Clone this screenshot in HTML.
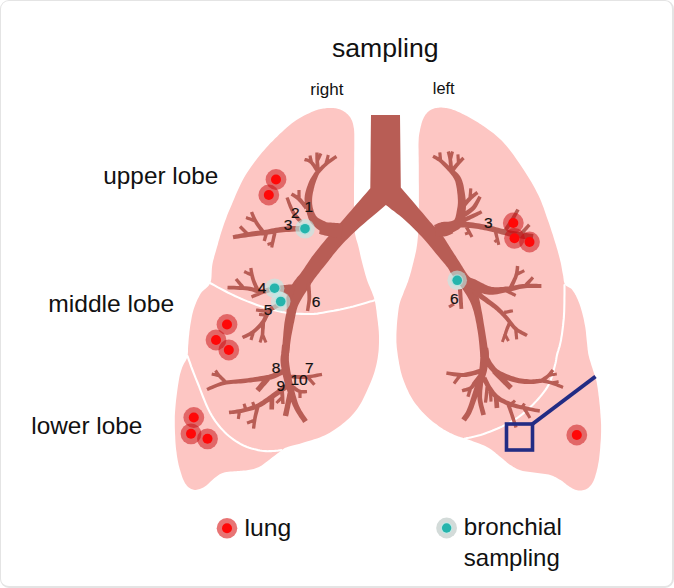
<!DOCTYPE html>
<html><head><meta charset="utf-8"><title>sampling</title>
<style>
html,body{margin:0;padding:0;background:#fff;}
body{width:674px;height:588px;overflow:hidden;position:relative;font-family:"Liberation Sans",sans-serif;}
.frame{position:absolute;left:0;top:0;width:674px;height:588px;box-sizing:border-box;border:1px solid #e4e4e4;border-right-width:2px;border-bottom-width:2px;border-radius:9px;}
svg{position:absolute;left:0;top:0;display:block;}
svg text{font-family:"Liberation Sans",sans-serif;fill:#111;}
</style></head><body>
<svg width="674" height="588" viewBox="0 0 674 588">
<path d="M333.8 108.1 L334.8 108.2 L335.8 108.3 L336.7 108.5 L337.6 108.7 L338.5 109 L339.4 109.2 L340.3 109.6 L341.1 109.9 L341.9 110.3 L342.8 110.7 L343.6 111.2 L344.4 111.7 L345.2 112.2 L345.9 112.8 L346.6 113.4 L347.3 114 L347.9 114.6 L348.5 115.3 L349.1 115.9 L349.6 116.6 L350.2 117.3 L350.6 118.1 L351.1 118.9 L351.5 119.7 L351.9 120.6 L352.3 121.6 L352.6 122.6 L352.9 123.6 L353.2 124.7 L353.4 125.8 L353.6 126.9 L353.8 128 L354 129 L354.1 129.9 L354.1 130.7 L354.2 131.6 L354.2 132.6 L354.3 133.7 L354.3 135.2 L354.3 137 L354.3 139.1 L354.3 141.4 L354.3 143.9 L354.3 146.6 L354.3 149.5 L354.2 152.7 L354.2 156.2 L354.2 160 L354.2 164.3 L354.1 169 L354.1 174.2 L354.1 179.6 L354 185 L354 190.3 L354 195.4 L354 200 L354 204.3 L354 208.5 L354 212.6 L354 216.4 L354 220.1 L354.1 223.6 L354.3 226.9 L354.5 230 L354.8 232.8 L355.3 235.2 L355.8 237.4 L356.3 239.4 L356.9 241.3 L357.5 243.2 L358 245.1 L358.5 247 L359 249 L359.4 250.8 L359.8 252.6 L360.2 254.4 L360.6 256.2 L361 258.1 L361.5 260 L362 262 L362.5 264.1 L363.1 266.3 L363.7 268.5 L364.3 270.8 L364.9 273 L365.6 275.4 L366.3 277.7 L367 280 L367.8 282.3 L368.8 284.7 L369.8 287.1 L370.8 289.4 L371.8 291.8 L372.7 294.2 L373.6 296.6 L374.3 299 L374.9 301.4 L375.4 303.8 L375.8 306.2 L376.1 308.6 L376.5 310.9 L376.7 313.3 L377 315.7 L377.3 318 L377.6 320.3 L377.9 322.6 L378.1 324.8 L378.4 327.1 L378.6 329.3 L378.8 331.5 L378.9 333.8 L379 336 L379 338.3 L379 340.5 L379 342.8 L378.9 345 L378.8 347.3 L378.7 349.5 L378.5 351.8 L378.2 354 L377.9 356.2 L377.6 358.4 L377.2 360.6 L376.8 362.7 L376.3 364.9 L375.8 367.1 L375.2 369.3 L374.6 371.5 L373.9 373.8 L373.1 376 L372.3 378.3 L371.4 380.6 L370.4 383 L369.4 385.3 L368.4 387.6 L367.3 390 L366.2 392.4 L365 394.9 L363.8 397.4 L362.6 399.9 L361.3 402.4 L359.9 404.8 L358.5 407.1 L357 409.3 L355.4 411.3 L353.8 413.3 L352.2 415.1 L350.4 416.9 L348.6 418.7 L346.8 420.3 L344.9 422 L342.9 423.6 L340.9 425.2 L338.8 426.8 L336.6 428.3 L334.4 429.8 L332.1 431.3 L329.8 432.7 L327.4 434 L325 435.2 L322.5 436.3 L319.8 437.4 L317 438.4 L314.2 439.3 L311.4 440.2 L308.7 441.1 L306 441.8 L303.6 442.6 L301.3 443.3 L299 443.9 L296.7 444.5 L294.6 445 L292.6 445.5 L290.7 446 L289 446.5 L287.5 447 L286.3 447.4 L285.4 447.8 L284.7 448.1 L284.1 448.5 L283.6 448.8 L283 449.3 L282.3 449.8 L281.3 450.5 L280.1 451.4 L278.8 452.4 L277.3 453.5 L275.8 454.7 L274.2 455.9 L272.7 457.1 L271.1 458.3 L269.7 459.4 L268.3 460.4 L267 461.5 L265.6 462.5 L264.3 463.6 L263 464.5 L261.7 465.5 L260.3 466.3 L259 467 L257.7 467.6 L256.3 468.1 L255 468.5 L253.6 468.9 L252.3 469.2 L251 469.5 L249.6 469.8 L248.3 470 L247 470.2 L245.7 470.4 L244.5 470.5 L243.2 470.6 L241.9 470.7 L240.6 470.7 L239.2 470.9 L237.7 471 L236.1 471.2 L234.3 471.3 L232.4 471.4 L230.4 471.6 L228.5 471.8 L226.7 472 L225 472.3 L223.4 472.7 L222 473.2 L220.8 473.7 L219.7 474.3 L218.6 475 L217.6 475.7 L216.6 476.4 L215.6 477.2 L214.5 478 L213.4 478.9 L212.3 479.9 L211.2 481 L210.1 482.1 L208.9 483.2 L207.8 484.2 L206.7 485.2 L205.6 486 L204.5 486.7 L203.3 487.4 L202.2 488 L201 488.5 L199.9 489 L198.8 489.3 L197.7 489.6 L196.7 489.8 L195.7 489.9 L194.8 489.9 L193.8 489.7 L192.9 489.5 L192.1 489.3 L191.2 488.9 L190.4 488.5 L189.6 488 L188.8 487.5 L188.1 486.9 L187.4 486.2 L186.7 485.5 L186.1 484.6 L185.4 483.7 L184.8 482.7 L184.2 481.6 L183.6 480.3 L183 478.9 L182.4 477.4 L181.8 475.8 L181.3 474.1 L180.8 472.4 L180.3 470.8 L179.8 469.2 L179.4 467.7 L179 466.2 L178.6 464.8 L178.3 463.3 L178 461.8 L177.7 460.2 L177.4 458.5 L177.1 456.7 L176.8 454.8 L176.6 452.8 L176.3 450.8 L176 448.7 L175.8 446.4 L175.6 444.1 L175.4 441.6 L175.3 438.9 L175.2 436 L175 433 L174.9 429.8 L174.8 426.5 L174.8 423 L174.8 419.6 L174.8 416 L175 412.5 L175.3 408.8 L175.6 404.9 L176 400.8 L176.5 396.8 L177 392.8 L177.5 389 L178 385.5 L178.5 382.5 L178.9 379.9 L179.3 377.7 L179.7 375.8 L180.1 374.1 L180.6 372.5 L181 371 L181.5 369.5 L182 368 L182.6 366.5 L183.3 365 L184 363.6 L184.8 362.3 L185.6 361 L186.2 359.7 L186.8 358.4 L187.3 357 L187.6 355.6 L187.8 354.3 L187.9 353 L188 351.6 L188 350.2 L188 348.8 L188.1 347.2 L188.2 345.4 L188.4 343.5 L188.5 341.4 L188.7 339.1 L188.9 336.8 L189.2 334.5 L189.4 332.1 L189.7 329.8 L190 327.5 L190.3 325.2 L190.7 323 L191.1 320.7 L191.5 318.4 L191.9 316.2 L192.4 313.9 L193 311.7 L193.6 309.6 L194.3 307.5 L195.1 305.3 L195.9 303.2 L196.8 301.1 L197.7 299.1 L198.7 297.2 L199.7 295.3 L200.7 293.6 L201.8 292.1 L203.1 290.7 L204.5 289.6 L205.8 288.4 L207.1 287.3 L208.4 286 L209.4 284.6 L210.3 283 L210.9 281.1 L211.3 279 L211.5 276.8 L211.6 274.5 L211.7 272.1 L211.8 269.7 L212 267.3 L212.3 265 L212.7 262.8 L213.2 260.6 L213.8 258.5 L214.3 256.3 L215 254.1 L215.6 251.9 L216.3 249.5 L217 247 L217.8 244.4 L218.5 241.6 L219.4 238.7 L220.2 235.8 L221.1 232.8 L222.1 229.8 L223 226.9 L224 224 L225 221.2 L226.1 218.4 L227.1 215.6 L228.2 212.8 L229.4 210 L230.6 207.2 L231.8 204.4 L233 201.5 L234.3 198.6 L235.5 195.6 L236.8 192.6 L238.2 189.5 L239.6 186.5 L241 183.5 L242.5 180.6 L244 177.8 L245.6 175.1 L247.2 172.5 L248.9 169.9 L250.6 167.4 L252.4 164.9 L254.2 162.4 L256.1 159.9 L258 157.5 L260 155.1 L262 152.6 L264.1 150.2 L266.2 147.8 L268.3 145.5 L270.5 143.1 L272.8 140.9 L275 138.6 L277.3 136.4 L279.6 134.1 L282 131.9 L284.3 129.7 L286.8 127.6 L289.2 125.5 L291.6 123.6 L294 121.8 L296.5 120.1 L299 118.5 L301.6 117 L304.2 115.6 L306.8 114.3 L309.2 113.2 L311.5 112.1 L313.5 111.2 L315.3 110.5 L316.9 109.9 L318.3 109.5 L319.6 109.2 L320.9 108.9 L322.1 108.7 L323.3 108.6 L324.5 108.4 L325.8 108.2 L327 108.1 L328.2 108 L329.4 108 L330.5 107.9 L331.7 108 L332.7 108Z" fill="#fdc6c3"/>
<path d="M444.1 107.8 L445.2 107.9 L446.3 108.1 L447.5 108.3 L448.6 108.5 L449.8 108.8 L451 109.1 L452.2 109.5 L453.4 109.9 L454.6 110.3 L455.9 110.8 L457.2 111.4 L458.5 112 L459.9 112.6 L461.2 113.2 L462.5 113.9 L463.8 114.5 L465.1 115.2 L466.4 115.8 L467.7 116.5 L469 117.2 L470.3 117.9 L471.6 118.7 L472.9 119.4 L474.2 120.2 L475.5 121 L476.8 121.8 L478.1 122.6 L479.4 123.4 L480.8 124.3 L482.1 125.2 L483.4 126.1 L484.8 127 L486.2 128 L487.5 128.9 L488.9 129.9 L490.3 130.9 L491.7 132 L493.1 133.1 L494.6 134.3 L496 135.5 L497.4 136.8 L498.8 138 L500.2 139.3 L501.6 140.6 L503 142.1 L504.5 143.7 L506.1 145.5 L507.8 147.5 L509.6 149.8 L511.5 152.3 L513.6 155.1 L515.6 157.9 L517.7 160.9 L519.8 164 L521.8 167 L523.8 170 L525.7 173 L527.6 176.1 L529.6 179.2 L531.5 182.3 L533.3 185.5 L535.1 188.7 L536.7 191.9 L538.3 195 L539.7 198.1 L541.1 201.3 L542.3 204.5 L543.5 207.6 L544.6 210.8 L545.7 213.9 L546.7 217 L547.8 220 L548.9 223 L549.9 226 L550.9 229 L551.8 231.9 L552.8 234.8 L553.6 237.6 L554.5 240.4 L555.3 243 L556.1 245.5 L556.8 247.9 L557.5 250.3 L558.1 252.6 L558.7 254.8 L559.3 256.9 L559.8 259 L560.3 261 L560.8 263 L561.2 264.9 L561.5 266.7 L561.8 268.5 L562.1 270.3 L562.4 271.9 L562.7 273.5 L563 275 L563.3 276.4 L563.4 277.8 L563.6 279.1 L563.7 280.3 L563.9 281.5 L564.2 282.6 L564.5 283.6 L565 284.5 L565.6 285.3 L566.4 285.9 L567.3 286.5 L568.2 286.9 L569.1 287.4 L570.1 287.9 L571 288.5 L571.8 289.3 L572.5 290.2 L573.2 291.2 L573.9 292.2 L574.6 293.3 L575.2 294.4 L575.9 295.6 L576.5 296.9 L577.1 298.2 L577.7 299.6 L578.3 301 L578.9 302.5 L579.5 304 L580 305.6 L580.6 307.2 L581.1 308.9 L581.6 310.7 L582.1 312.5 L582.6 314.5 L583.1 316.5 L583.6 318.5 L584 320.6 L584.4 322.7 L584.8 324.8 L585.2 326.8 L585.5 328.8 L585.8 330.9 L586 333.1 L586.2 335.2 L586.4 337.2 L586.6 339.2 L586.8 341.2 L587 343 L587.2 344.7 L587.3 346.3 L587.5 347.7 L587.6 349.2 L587.8 350.6 L588 352 L588.2 353.5 L588.5 355 L588.9 356.6 L589.3 358.3 L589.8 360 L590.4 361.8 L590.9 363.5 L591.4 365.2 L592 366.9 L592.5 368.6 L593 370.2 L593.5 371.7 L594 373.2 L594.6 374.7 L595.1 376.1 L595.5 377.7 L596 379.3 L596.4 381 L596.8 382.8 L597.1 384.7 L597.4 386.6 L597.7 388.6 L598 390.7 L598.3 392.8 L598.5 394.9 L598.8 397 L599.1 399.2 L599.3 401.4 L599.5 403.6 L599.8 405.9 L600 408.2 L600.2 410.5 L600.3 412.8 L600.5 415 L600.6 417.1 L600.8 419.1 L600.9 421.1 L601 423.1 L601.1 425.1 L601.1 427.2 L601.1 429.5 L601.1 432 L601 434.8 L600.9 437.9 L600.7 441.2 L600.4 444.5 L600.2 447.9 L599.9 451.2 L599.6 454.2 L599.3 457 L599 459.5 L598.6 461.9 L598.2 464.1 L597.8 466.2 L597.4 468.2 L596.9 470.1 L596.5 471.9 L596 473.6 L595.5 475.2 L595.1 476.8 L594.6 478.2 L594.1 479.5 L593.6 480.7 L593 481.9 L592.4 483 L591.8 484 L591.1 484.9 L590.4 485.8 L589.7 486.6 L589 487.3 L588.2 487.9 L587.4 488.5 L586.5 489 L585.6 489.4 L584.7 489.8 L583.7 490.1 L582.6 490.3 L581.5 490.4 L580.4 490.5 L579.3 490.5 L578.3 490.5 L577.2 490.3 L576.2 490 L575.1 489.7 L574.1 489.3 L573 488.7 L572 488.2 L571 487.6 L569.9 486.9 L568.9 486.3 L567.9 485.6 L566.9 484.9 L565.9 484.1 L564.9 483.3 L563.9 482.4 L562.8 481.6 L561.7 480.8 L560.6 480.1 L559.4 479.4 L558.2 478.7 L557 478 L555.8 477.3 L554.5 476.7 L553.1 476 L551.7 475.5 L550.2 475 L548.6 474.6 L546.9 474.2 L545.1 474 L543.2 473.7 L541.3 473.5 L539.4 473.3 L537.5 473.1 L535.7 472.8 L533.9 472.5 L532 472.3 L530.1 472.1 L528.2 471.8 L526.3 471.6 L524.5 471.3 L522.8 470.9 L521.2 470.5 L519.7 470 L518.3 469.5 L517 468.9 L515.7 468.3 L514.5 467.6 L513.3 466.9 L512.1 466.1 L510.8 465.3 L509.5 464.4 L508.2 463.4 L506.9 462.4 L505.6 461.3 L504.3 460.2 L503 459.1 L501.7 458.1 L500.4 457 L499.1 455.9 L497.8 454.8 L496.4 453.7 L495.1 452.6 L493.8 451.5 L492.5 450.5 L491.2 449.5 L490 448.7 L488.9 448 L487.9 447.4 L487 446.9 L486.1 446.4 L485.2 446 L484.1 445.5 L482.9 445 L481.5 444.4 L479.8 443.7 L477.8 443 L475.6 442.2 L473.4 441.4 L471.1 440.6 L468.9 439.8 L466.8 439.1 L465 438.5 L463.4 438 L462 437.5 L460.7 437.2 L459.5 436.8 L458.3 436.4 L457.1 436 L455.9 435.6 L454.5 435 L453 434.3 L451.6 433.6 L450 432.9 L448.5 432.1 L446.9 431.3 L445.3 430.3 L443.6 429.4 L442 428.3 L440.3 427.2 L438.5 425.9 L436.8 424.6 L434.9 423.3 L433.1 421.9 L431.4 420.4 L429.6 419 L428 417.5 L426.4 416 L424.9 414.5 L423.4 413 L421.9 411.4 L420.4 409.8 L419.1 408.2 L417.8 406.6 L416.5 405 L415.3 403.4 L414.2 401.9 L413.2 400.4 L412.2 398.8 L411.3 397.3 L410.3 395.6 L409.4 393.9 L408.5 392 L407.6 390 L406.6 387.9 L405.7 385.7 L404.8 383.5 L403.9 381.2 L403 378.8 L402.2 376.4 L401.5 374 L400.8 371.5 L400.2 368.9 L399.7 366.2 L399.1 363.5 L398.7 360.8 L398.2 358.1 L397.8 355.5 L397.5 353 L397.2 350.7 L396.9 348.5 L396.7 346.4 L396.6 344.4 L396.4 342.3 L396.4 340.1 L396.4 337.7 L396.4 335 L396.5 331.9 L396.7 328.5 L396.9 324.8 L397.2 321 L397.6 317.3 L398 313.7 L398.4 310.4 L398.8 307.5 L399.3 305.1 L399.8 302.9 L400.4 301 L401 299.3 L401.6 297.8 L402.2 296.2 L402.9 294.7 L403.5 293 L404.1 291.3 L404.7 289.8 L405.4 288.2 L406 286.7 L406.6 285.2 L407.2 283.6 L407.9 281.9 L408.5 280 L409.1 278 L409.8 275.9 L410.4 273.7 L411.1 271.4 L411.7 269 L412.3 266.7 L412.9 264.3 L413.5 262 L414 259.7 L414.6 257.5 L415.1 255.3 L415.6 253.1 L416.1 250.8 L416.5 248.4 L416.9 245.8 L417.3 243 L417.6 240 L417.9 237 L418.1 233.9 L418.3 230.6 L418.4 227.1 L418.6 223.4 L418.7 219.4 L418.8 215 L418.9 210.1 L418.9 204.6 L418.9 198.6 L418.9 192.5 L418.9 186.4 L418.8 180.5 L418.8 175 L418.8 170 L418.8 165.5 L418.7 161.3 L418.7 157.4 L418.6 153.7 L418.6 150.3 L418.5 147.1 L418.5 144.2 L418.6 141.5 L418.7 139.2 L418.8 137.2 L419 135.6 L419.2 134.2 L419.4 132.9 L419.7 131.7 L419.9 130.4 L420.2 129.1 L420.5 127.7 L420.8 126.3 L421.2 124.9 L421.5 123.6 L421.9 122.3 L422.3 121 L422.8 119.8 L423.3 118.7 L423.8 117.6 L424.4 116.6 L425 115.6 L425.6 114.6 L426.3 113.7 L427 112.9 L427.7 112.1 L428.5 111.4 L429.3 110.8 L430.2 110.2 L431 109.7 L432 109.3 L432.9 108.9 L433.9 108.6 L434.8 108.3 L435.8 108.1 L436.8 107.9 L437.8 107.8 L438.8 107.7 L439.8 107.6 L440.9 107.6 L441.9 107.6 L443 107.7Z" fill="#fdc6c3"/>
<path d="M210 283 L211.9 284 L214.5 285.4 L217.5 287.1 L220.9 288.9 L224.5 290.8 L228.2 292.7 L231.7 294.4 L235 296 L238.1 297.4 L241.2 298.8 L244.4 300.1 L247.5 301.4 L250.6 302.6 L253.8 303.8 L256.9 304.9 L260 306 L263.1 307 L266.2 308 L269.4 308.9 L272.5 309.8 L275.6 310.6 L278.8 311.3 L281.9 312 L285 312.5 L288.2 312.9 L291.5 313.3 L294.8 313.6 L298.1 313.8 L301.4 313.9 L304.5 314 L307.4 314 L310 314 L312.3 314 L314.2 313.9 L315.9 313.7 L317.5 313.6 L319.1 313.3 L320.8 313 L322.7 312.7 L325 312.3 L327.6 311.8 L330.6 311.3 L333.7 310.8 L336.9 310.1 L340.2 309.5 L343.6 308.8 L346.8 308 L350 307.3 L353.3 306.5 L356.7 305.5 L360.3 304.5 L363.8 303.5 L367.1 302.5 L370.1 301.6 L372.6 300.9 L374.5 300.3" fill="none" stroke="#fff" stroke-width="2.1" stroke-linecap="round"/>
<path d="M187.5 356 L187.9 357.1 L188.4 358.6 L189 360.3 L189.7 362.2 L190.4 364.2 L191.1 366.3 L191.8 368.2 L192.5 370 L193.1 371.5 L193.6 372.8 L194 374 L194.5 375.2 L195.1 376.6 L195.7 378.2 L196.5 380.1 L197.5 382.5 L198.7 385.5 L200 389 L201.5 392.9 L203.1 397 L204.8 401.2 L206.5 405.3 L208.3 409.1 L210 412.5 L211.7 415.5 L213.5 418.4 L215.3 421.1 L217.2 423.6 L219.1 426 L221 428.3 L223 430.4 L225 432.5 L227.1 434.5 L229.2 436.3 L231.4 438 L233.6 439.7 L235.8 441.2 L238.1 442.5 L240.3 443.8 L242.5 445 L244.7 446.1 L247 447 L249.2 447.8 L251.5 448.5 L253.7 449.1 L255.9 449.6 L258 450.1 L260 450.5 L262 450.8 L263.9 451 L265.8 451.1 L267.6 451.2 L269.4 451.1 L271.1 451.1 L272.6 451 L274 451 L275.3 450.9 L276.5 450.8 L277.5 450.7 L278.5 450.5 L279.4 450.4 L280.1 450.2 L280.8 450.1 L281.3 450" fill="none" stroke="#fff" stroke-width="2.1" stroke-linecap="round"/>
<path d="M564.5 285 L564.5 287.3 L564.5 290.5 L564.5 294.3 L564.4 298.4 L564.4 302.8 L564.3 307.1 L564.2 311.3 L564 315 L563.8 318.4 L563.4 321.8 L563.1 325.2 L562.7 328.4 L562.3 331.6 L561.9 334.6 L561.4 337.4 L561 340 L560.5 342.4 L560 344.6 L559.5 346.6 L558.9 348.4 L558.4 350.2 L557.9 351.8 L557.4 353.4 L557 355 L556.7 356.4 L556.5 357.6 L556.3 358.7 L556.2 359.7 L556 360.7 L555.8 361.9 L555.5 363.3 L555 365 L554.5 367 L553.9 369.3 L553.2 371.8 L552.5 374.5 L551.7 377.2 L550.8 379.9 L549.7 382.5 L548.5 385 L547.1 387.4 L545.5 389.8 L543.8 392.2 L541.9 394.6 L540 396.9 L538 399.2 L536 401.4 L534 403.5 L532 405.6 L529.9 407.6 L527.7 409.6 L525.6 411.5 L523.3 413.4 L521.1 415.2 L518.8 416.9 L516.5 418.5 L514.2 420 L511.7 421.5 L509.3 422.9 L506.8 424.2 L504.3 425.4 L501.9 426.6 L499.4 427.7 L497 428.8 L494.6 429.8 L492.2 430.8 L489.8 431.7 L487.4 432.6 L485 433.4 L482.8 434.2 L480.6 434.9 L478.5 435.5 L476.5 436.1 L474.5 436.6 L472.5 437 L470.6 437.4 L468.9 437.8 L467.3 438 L466 438.3 L465 438.5" fill="none" stroke="#fff" stroke-width="2.1" stroke-linecap="round"/>
<path d="M371 115 L374.6 115 L378.2 115 L381.9 115 L385.5 115 L389.1 115 L392.8 115 L396.4 115 L400 115 L400 115 L400.1 124.1 L400.2 133.1 L400.3 142.2 L400.4 151.2 L400.5 160.3 L400.6 169.4 L400.7 178.4 L400.8 187.5 L400.8 187.5 L404.4 191.8 L408.1 196.1 L411.8 200.3 L415.4 204.6 L419.1 208.9 L422.7 213.1 L426.4 217.4 L430 221.7 L430 221.7 L431.7 223.6 L433.3 225.4 L435 227.3 L436.6 229.2 L438.3 231.1 L440 232.9 L441.6 234.8 L443.3 236.7 L443.3 236.7 L444 237.8 L445 239.3 L446.1 241.1 L447.3 243 L448.6 245.1 L450 247.2 L451.2 249.2 L452.4 251 L453.5 252.7 L454.6 254.4 L455.7 256.1 L456.7 257.8 L457.8 259.4 L458.8 261 L459.8 262.5 L460.7 264 L461.6 265.4 L462.3 266.6 L463.1 267.9 L463.8 269 L464.5 270.2 L465.2 271.3 L465.9 272.4 L466.7 273.6 L467.5 274.7 L468.4 275.8 L469.3 276.8 L470.3 277.8 L471.2 278.9 L472.1 280.1 L473 281.5 L473.8 283 L474.6 284.7 L475.3 286.4 L476 288.2 L476.8 290.2 L477.4 292.3 L478.1 294.6 L478.8 297.2 L479.5 300 L480.2 303.2 L480.9 306.8 L481.6 310.7 L482.4 314.8 L483.1 318.9 L483.7 323 L484.4 327 L485 330.7 L485.6 334.4 L486.2 338.2 L486.8 342 L487.3 345.8 L487.9 349.3 L488.3 352.4 L488.7 355 L489 357 L489 357 L487.9 357 L486.9 357 L485.8 357 L484.8 357 L483.7 357 L482.6 357 L481.6 357 L480.5 357 L480.5 357 L480.3 355 L480 352.2 L479.7 349 L479.4 345.4 L479 341.6 L478.6 337.8 L478.1 334.1 L477.6 330.7 L477 327.5 L476.5 324.2 L475.8 321 L475.2 317.8 L474.4 314.6 L473.7 311.6 L472.8 308.7 L471.9 306 L470.9 303.5 L469.8 301.1 L468.7 298.9 L467.5 296.8 L466.3 294.8 L465 292.8 L463.7 290.8 L462.4 288.8 L461 286.7 L459.5 284.6 L458 282.5 L456.4 280.5 L454.9 278.5 L453.5 276.7 L452.2 275 L451.2 273.6 L450.4 272.5 L450 271.6 L449.7 271 L449.4 270.5 L449.2 270.1 L448.9 269.5 L448.4 268.7 L447.6 267.6 L446.5 266.2 L445.2 264.6 L443.7 262.8 L442.2 261 L440.5 259 L438.9 257.1 L437.2 255.1 L435.7 253.3 L434.3 251.5 L432.9 249.8 L431.5 248.1 L430.2 246.4 L428.8 244.7 L427.3 242.9 L425.6 241 L423.8 239 L421.8 236.8 L419.5 234.5 L417.2 232 L414.7 229.5 L412.2 227 L409.7 224.6 L407.2 222.2 L404.8 220 L402.3 217.8 L399.6 215.6 L396.8 213.4 L394.1 211.3 L391.5 209.4 L389.2 207.6 L387.3 206.1 L385.8 205 L385.8 205 L383.5 207 L380.3 209.7 L376.5 212.9 L372.3 216.5 L368 220.1 L363.8 223.7 L359.9 227.1 L356.7 230 L354 232.5 L351.6 234.8 L349.4 236.9 L347.4 238.9 L345.5 240.8 L343.6 242.7 L341.8 244.7 L340 246.7 L338.2 248.8 L336.4 250.9 L334.7 253 L333 255.1 L331.4 257.2 L329.8 259.3 L328.3 261.3 L326.7 263.3 L325.1 265.3 L323.5 267.2 L322 269.1 L320.4 271 L319 272.9 L317.5 274.7 L316.2 276.4 L315 278 L313.9 279.5 L313.1 280.7 L312.3 281.9 L311.5 283 L310.8 284.2 L310.1 285.4 L309.3 286.7 L308.3 288.3 L307.2 290.1 L305.9 292 L304.5 294.1 L303.1 296.3 L301.8 298.5 L300.5 300.7 L299.3 302.9 L298.3 305 L297.5 307.1 L296.8 309.2 L296.3 311.3 L295.8 313.4 L295.4 315.5 L295 317.6 L294.6 319.6 L294.2 321.7 L293.7 323.8 L293.3 325.8 L292.9 327.9 L292.5 330 L292.1 332 L291.7 334 L291.3 336 L291 338 L290.7 340 L290.4 342.2 L290.1 344.4 L289.9 346.5 L289.7 348.5 L289.5 350.3 L289.3 351.9 L289.2 353 L289.2 353 L288.3 353 L287.3 353 L286.4 353 L285.4 353 L284.5 353 L283.6 353 L282.6 353 L281.7 353 L281.7 353 L281.9 350.8 L282.1 347.7 L282.5 344 L282.8 339.9 L283.2 335.8 L283.5 331.7 L283.9 328.1 L284.2 325 L284.5 322.5 L284.9 320.3 L285.2 318.4 L285.6 316.6 L285.9 315 L286.3 313.4 L286.5 311.7 L286.7 310 L286.8 308.2 L286.7 306.4 L286.6 304.6 L286.5 302.9 L286.3 301.1 L286.3 299.4 L286.4 297.7 L286.7 296 L287.2 294.3 L287.8 292.6 L288.5 291 L289.3 289.3 L290.2 287.7 L291.1 286.1 L292.1 284.5 L293 283 L294 281.5 L294.9 280.2 L296 278.9 L297 277.6 L298.1 276.3 L299.3 274.9 L300.5 273.4 L301.7 271.7 L303 269.9 L304.4 267.9 L305.8 265.8 L307.2 263.7 L308.7 261.5 L310.2 259.3 L311.7 257.1 L313.3 255 L315 252.8 L316.8 250.4 L318.8 248 L320.7 245.6 L322.6 243.3 L324.3 241.3 L325.7 239.6 L326.7 238.3 L326.7 238.3 L328.4 236.4 L330 234.6 L331.7 232.7 L333.4 230.8 L335 228.9 L336.7 227.1 L338.3 225.2 L340 223.3 L340 223.3 L343.8 218.9 L347.6 214.6 L351.4 210.2 L355.1 205.8 L358.9 201.4 L362.7 197.1 L366.5 192.7 L370.3 188.3 L370.3 188.3 L370.4 179.1 L370.5 170 L370.6 160.8 L370.6 151.7 L370.7 142.5 L370.8 133.3 L370.9 124.2 L371 115Z" fill="#b85d55"/>
<path d="M342.9 223.6 L342 223.5 L340.7 223.4 L339.2 223.2 L337.5 223.1 L335.8 222.9 L334 222.8 L332.4 222.7 L330.9 222.6 L329.6 222.5 L328.1 222.4 L326.7 222.3 L325.2 222.3 L323.9 222.2 L322.7 222.2 L321.7 222.1 L320.9 222.1 L319.1 233.9 L319.8 234.1 L320.8 234.4 L322 234.7 L323.3 235.1 L324.7 235.4 L326.1 235.8 L327.6 236.1 L329.1 236.4 L330.6 236.7 L332.2 237 L334 237.3 L335.7 237.6 L337.4 237.9 L338.9 238.1 L340.2 238.3 L341.1 238.4Z M326.9 222.4 L326 221.9 L324.7 221.3 L323.3 220.7 L321.9 220 L320.4 219.3 L319.1 218.6 L318.1 217.9 L317.3 217.3 L316.6 216.6 L315.9 215.7 L315.3 214.6 L314.7 213.5 L314.2 212.2 L313.7 210.9 L313.3 209.5 L312.9 208.2 L312.6 206.9 L312.4 205.6 L312.2 204.3 L312.1 203.1 L312.1 201.8 L312.1 200.6 L312.1 199.3 L312.2 198 L312.3 196.7 L312.5 195.2 L312.8 193.6 L313.1 192 L313.5 190.4 L313.8 188.8 L314.2 187.4 L314.5 186 L314.8 184.9 L315.2 183.8 L315.5 182.8 L315.8 181.9 L316.1 181 L316.5 180 L316.9 179.1 L317.2 178.2 L317.6 177.3 L317.9 176.4 L318.3 175.5 L318.7 174.7 L319.1 173.9 L319.5 173.1 L319.8 172.5 L320 172 L316.4 170 L316.1 170.4 L315.7 170.9 L315.2 171.6 L314.7 172.3 L314.1 173.1 L313.5 174 L312.9 174.9 L312.4 175.8 L311.9 176.6 L311.3 177.5 L310.8 178.3 L310.2 179.3 L309.7 180.3 L309.1 181.4 L308.6 182.7 L308.1 184 L307.6 185.4 L307 186.9 L306.5 188.5 L306 190.3 L305.5 192 L305.1 193.8 L304.8 195.6 L304.6 197.4 L304.5 199.1 L304.6 200.7 L304.7 202.3 L304.9 203.8 L305.1 205.4 L305.4 206.9 L305.8 208.4 L306.1 209.8 L306.4 211.3 L306.8 212.9 L307.2 214.5 L307.7 216.1 L308.2 217.7 L308.9 219.4 L309.7 221.1 L310.7 222.7 L312.1 224.3 L313.6 225.8 L315.1 227.1 L316.7 228.4 L318.1 229.5 L319.4 230.4 L320.4 231.1 L321.1 231.6Z M319.6 170.4 L319.1 169.6 L318.4 168.5 L317.5 167.2 L316.5 165.8 L315.4 164.4 L314.4 163 L313.3 161.7 L312.2 160.6 L311.1 159.8 L310 159.2 L308.8 158.8 L307.8 158.5 L306.8 158.3 L306 158.1 L305.4 158 L305 157.9 L304 161.1 L304.6 161.3 L305.3 161.4 L306.1 161.6 L306.9 161.8 L307.7 162.1 L308.4 162.4 L309.1 162.8 L309.8 163.4 L310.5 164.1 L311.4 165.3 L312.4 166.6 L313.3 168 L314.2 169.4 L315.1 170.7 L315.8 171.8 L316.4 172.6Z M313.2 162.7 L313 161.7 L312.8 160.8 L312.6 159.9 L312.4 158.9 L312.1 158 L311.9 157.1 L311.7 156.1 L311.5 155.2 L308.5 155.8 L308.6 156.7 L308.8 157.7 L309 158.6 L309.1 159.6 L309.3 160.5 L309.5 161.5 L309.6 162.4 L309.8 163.3Z M320 171.9 L319.9 170.9 L319.8 169.6 L319.7 168 L319.5 166.3 L319.4 164.6 L319.2 162.8 L319.1 161.3 L319 159.9 L318.9 158.7 L318.9 157.6 L318.8 156.5 L318.8 155.5 L318.7 154.5 L318.7 153.7 L318.7 153 L318.6 152.5 L315.4 152.5 L315.3 153.1 L315.3 153.8 L315.3 154.6 L315.3 155.5 L315.3 156.6 L315.3 157.7 L315.3 158.9 L315.4 160.1 L315.4 161.5 L315.5 163.1 L315.6 164.8 L315.7 166.6 L315.8 168.3 L315.9 169.9 L316 171.2 L316 172.1Z M318.8 161.7 L319.2 160.8 L319.7 159.8 L320.1 158.9 L320.6 158 L321 157 L321.5 156.1 L321.9 155.1 L322.4 154.2 L319.6 152.8 L319.1 153.7 L318.7 154.7 L318.2 155.6 L317.7 156.5 L317.2 157.5 L316.8 158.4 L316.3 159.3 L315.8 160.3Z M319.4 173.4 L320.1 172.7 L320.9 171.8 L321.9 170.7 L323 169.5 L324.2 168.3 L325.4 167.1 L326.6 165.9 L327.7 164.9 L328.8 163.9 L330.2 162.9 L331.6 161.9 L333 160.9 L334.4 160 L335.6 159.1 L336.6 158.4 L337.4 157.9 L335.6 155.1 L334.8 155.6 L333.7 156.3 L332.5 157.1 L331.1 158 L329.6 159 L328.1 160 L326.6 161.1 L325.3 162.1 L324.1 163.2 L322.8 164.4 L321.5 165.6 L320.2 166.9 L319.1 168 L318.1 169.1 L317.2 170 L316.6 170.6Z M327.7 164.4 L327.9 163.3 L328.2 162.2 L328.5 161 L328.7 159.9 L329 158.8 L329.3 157.6 L329.5 156.5 L329.8 155.4 L326.8 154.6 L326.5 155.7 L326.2 156.9 L325.9 158 L325.6 159.1 L325.3 160.2 L324.9 161.3 L324.6 162.5 L324.3 163.6Z M308.2 206.6 L307.6 205.9 L306.8 205 L305.9 203.8 L304.9 202.5 L303.7 201.2 L302.6 199.8 L301.5 198.6 L300.4 197.5 L299.2 196.6 L298.1 195.8 L296.9 195 L295.7 194.4 L294.7 193.8 L293.7 193.3 L293 192.9 L292.4 192.5 L290.6 195.5 L291.2 195.9 L292 196.3 L292.8 196.9 L293.8 197.5 L294.8 198.2 L295.8 198.9 L296.8 199.7 L297.6 200.5 L298.5 201.4 L299.5 202.5 L300.5 203.8 L301.6 205.1 L302.6 206.4 L303.5 207.6 L304.2 208.6 L304.8 209.4Z M300.7 199.5 L300.7 198.3 L300.7 197.1 L300.7 195.9 L300.6 194.8 L300.6 193.6 L300.6 192.4 L300.6 191.2 L300.6 190 L297.4 190 L297.4 191.2 L297.4 192.4 L297.4 193.6 L297.4 194.8 L297.3 195.9 L297.3 197.1 L297.3 198.3 L297.3 199.5Z M302.5 220.7 L301.9 219.9 L301 219 L300 217.9 L298.8 216.7 L297.7 215.3 L296.5 213.9 L295.5 212.5 L294.6 211.1 L293.7 209.5 L292.8 207.6 L292 205.6 L291.1 203.5 L290.3 201.5 L289.6 199.6 L289 198.1 L288.5 196.9 L285.5 198.1 L285.9 199.2 L286.5 200.8 L287.1 202.7 L287.9 204.7 L288.7 206.9 L289.6 209.1 L290.5 211.1 L291.4 212.9 L292.4 214.6 L293.6 216.2 L294.7 217.7 L295.9 219.2 L297 220.5 L298.1 221.6 L298.9 222.6 L299.5 223.3Z M304.9 225.7 L303.2 225.7 L300.8 225.8 L298.1 225.9 L295 226 L291.7 226.1 L288.5 226.3 L285.5 226.5 L282.7 226.7 L280.3 227 L278 227.4 L275.7 227.8 L273.6 228.2 L271.6 228.6 L269.6 229 L267.6 229.4 L265.6 229.7 L263.6 230 L261.6 230.3 L259.7 230.5 L257.7 230.8 L255.7 231 L253.7 231.3 L251.7 231.6 L249.6 231.9 L247.4 232.3 L245 232.7 L242.6 233.2 L240.1 233.7 L237.8 234.2 L235.7 234.6 L233.9 235 L232.6 235.3 L233.4 239.3 L234.7 239.1 L236.5 238.8 L238.6 238.5 L240.9 238.1 L243.4 237.7 L245.8 237.4 L248.2 237 L250.4 236.7 L252.4 236.4 L254.4 236.2 L256.3 236 L258.3 235.8 L260.3 235.6 L262.3 235.4 L264.3 235.2 L266.4 234.9 L268.5 234.6 L270.5 234.2 L272.6 233.9 L274.6 233.5 L276.7 233.1 L278.8 232.8 L281 232.5 L283.3 232.3 L285.9 232.1 L288.8 231.9 L292 231.8 L295.2 231.6 L298.2 231.5 L301 231.5 L303.4 231.4 L305.1 231.3Z M265.1 231.3 L264.5 230.5 L263.7 229.4 L262.7 228.1 L261.6 226.7 L260.5 225.2 L259.4 223.8 L258.4 222.3 L257.6 221.1 L256.9 219.8 L256.2 218.5 L255.5 217.1 L254.9 215.7 L254.3 214.3 L253.8 213.2 L253.4 212.1 L253 211.4 L250 212.6 L250.3 213.4 L250.7 214.4 L251.1 215.6 L251.7 217 L252.3 218.5 L252.9 220 L253.6 221.5 L254.4 222.9 L255.3 224.4 L256.3 225.9 L257.4 227.5 L258.5 229 L259.5 230.5 L260.5 231.8 L261.3 232.9 L261.9 233.7Z M256.1 219.4 L254.9 219 L253.7 218.6 L252.5 218.1 L251.3 217.7 L250.1 217.3 L248.9 216.9 L247.7 216.5 L246.5 216 L245.5 219 L246.6 219.4 L247.8 219.9 L249 220.3 L250.2 220.8 L251.4 221.2 L252.5 221.7 L253.7 222.2 L254.9 222.6Z M249.3 233.2 L248.3 232.2 L247.2 231.3 L246.2 230.3 L245.2 229.3 L244.2 228.3 L243.2 227.3 L242.2 226.3 L241.2 225.3 L238.8 227.7 L239.8 228.7 L240.8 229.7 L241.8 230.7 L242.8 231.7 L243.8 232.7 L244.8 233.7 L245.7 234.8 L246.7 235.8Z M264.8 232.5 L264.5 233.5 L264.2 234.5 L264 235.5 L263.7 236.5 L263.4 237.5 L263.2 238.5 L262.9 239.5 L262.6 240.5 L265.8 241.5 L266.1 240.5 L266.4 239.5 L266.7 238.5 L267 237.5 L267.3 236.5 L267.6 235.5 L267.9 234.5 L268.2 233.5Z M273.2 231.6 L273 232.3 L272.8 233.3 L272.6 234.4 L272.3 235.7 L272 237 L271.8 238.3 L271.5 239.6 L271.3 240.6 L271.1 241.6 L271 242.6 L270.8 243.6 L270.6 244.5 L270.5 245.3 L270.4 246.1 L270.3 246.7 L270.2 247.2 L273.2 247.8 L273.3 247.3 L273.5 246.7 L273.6 246 L273.8 245.1 L274 244.2 L274.2 243.3 L274.5 242.3 L274.7 241.4 L274.9 240.3 L275.2 239.1 L275.5 237.8 L275.8 236.5 L276.1 235.2 L276.4 234.1 L276.6 233.1 L276.8 232.4Z M272.2 241.4 L271.6 241.6 L271 241.8 L270.3 242 L269.7 242.2 L269 242.4 L268.4 242.6 L267.7 242.9 L267.1 243.1 L267.9 245.9 L268.6 245.8 L269.2 245.6 L269.9 245.4 L270.5 245.3 L271.2 245.1 L271.8 244.9 L272.5 244.8 L273.2 244.6Z M296.3 284.4 L295.8 284.4 L295 284.4 L294.1 284.5 L293.1 284.5 L292 284.5 L290.9 284.6 L289.7 284.6 L288.7 284.6 L287.7 284.7 L286.8 284.8 L285.9 284.9 L285 285 L284 285.1 L283.1 285.1 L282.2 285.2 L281.3 285.3 L280.4 285.4 L279.6 285.4 L278.8 285.4 L277.9 285.4 L277 285.4 L275.9 285.5 L274.8 285.6 L273.5 285.8 L272.1 286.2 L270.5 286.7 L269 287.2 L267.4 287.8 L265.9 288.3 L264.3 288.7 L262.9 289 L261.5 289.2 L260.2 289.1 L258.8 288.9 L257.4 288.6 L255.9 288.1 L254.2 287.7 L252.4 287.2 L250.4 286.8 L248.3 286.4 L245.8 286.2 L243 286.1 L240 286 L237 285.9 L234.1 285.8 L231.4 285.8 L229.2 285.7 L227.6 285.7 L227.4 289.3 L229.1 289.4 L231.3 289.5 L233.9 289.6 L236.8 289.7 L239.8 289.9 L242.8 290.1 L245.5 290.3 L247.7 290.6 L249.6 290.9 L251.4 291.3 L253 291.8 L254.6 292.4 L256.2 292.9 L257.9 293.3 L259.6 293.7 L261.5 293.8 L263.4 293.8 L265.3 293.5 L267.2 293.1 L268.9 292.6 L270.5 292.1 L272 291.7 L273.4 291.3 L274.5 291.2 L275.5 291.1 L276.4 291 L277.1 291 L277.8 291 L278.5 291.1 L279.2 291.2 L279.9 291.3 L280.7 291.5 L281.5 291.7 L282.2 292 L282.9 292.3 L283.6 292.7 L284.3 293.1 L285 293.5 L285.6 293.9 L286.3 294.4 L287 294.8 L287.7 295.4 L288.4 296 L289.2 296.6 L289.9 297.2 L290.6 297.8 L291.2 298.3 L291.7 298.6Z M259.8 290.2 L259.4 289.3 L258.8 288 L258.2 286.5 L257.4 284.9 L256.7 283.2 L255.9 281.5 L255.3 279.9 L254.8 278.4 L254.4 277 L254 275.5 L253.6 274 L253.3 272.4 L253 271 L252.8 269.7 L252.6 268.6 L252.4 267.7 L249.2 268.3 L249.3 269.1 L249.5 270.2 L249.6 271.6 L249.9 273.1 L250.1 274.7 L250.4 276.3 L250.8 278 L251.2 279.6 L251.8 281.2 L252.4 282.9 L253.1 284.7 L253.9 286.5 L254.6 288.1 L255.2 289.6 L255.8 290.9 L256.2 291.8Z M252.2 273.4 L251.3 273 L250.4 272.6 L249.5 272.2 L248.6 271.8 L247.6 271.4 L246.7 270.9 L245.8 270.5 L244.9 270.1 L243.5 272.9 L244.4 273.4 L245.3 273.8 L246.2 274.3 L247.1 274.7 L248 275.2 L248.9 275.6 L249.9 276.1 L250.8 276.6Z M244.9 286.8 L243.9 285.7 L243 284.6 L242 283.5 L241.1 282.4 L240.1 281.3 L239.2 280.2 L238.2 279.1 L237.3 277.9 L234.7 280.1 L235.7 281.2 L236.6 282.3 L237.5 283.5 L238.4 284.6 L239.3 285.8 L240.3 286.9 L241.2 288 L242.1 289.2Z M263.3 289.8 L261.7 290.5 L260.1 291.2 L258.6 291.9 L257 292.6 L255.5 293.4 L253.9 294.1 L252.4 294.8 L250.8 295.5 L252.2 298.5 L253.7 297.8 L255.3 297.2 L256.9 296.5 L258.5 295.9 L260 295.2 L261.6 294.5 L263.2 293.9 L264.7 293.2Z M282 300.9 L281 301.4 L279.6 302 L277.9 302.8 L276 303.7 L274 304.7 L272 305.8 L270.1 307 L268.5 308.4 L267.1 309.9 L266 311.6 L265.1 313.2 L264.4 314.9 L263.7 316.5 L262.9 318.1 L262.2 319.5 L261.3 320.8 L260.3 322.1 L259.2 323.4 L258 324.7 L256.8 326 L255.6 327.2 L254.3 328.4 L253.1 329.5 L251.9 330.4 L250.6 331.3 L249.2 332.2 L247.8 333 L246.3 333.7 L244.9 334.4 L243.7 335 L242.6 335.5 L241.7 335.9 L243.3 339.1 L244.1 338.7 L245.1 338.3 L246.5 337.7 L247.9 337 L249.5 336.3 L251.1 335.5 L252.7 334.5 L254.1 333.6 L255.5 332.5 L256.9 331.3 L258.3 330.1 L259.6 328.8 L261 327.5 L262.2 326.1 L263.5 324.7 L264.7 323.2 L265.8 321.7 L266.7 320 L267.5 318.3 L268.3 316.7 L269 315.2 L269.8 313.8 L270.6 312.6 L271.5 311.6 L272.7 310.6 L274.3 309.7 L276.1 308.7 L277.9 307.8 L279.8 307 L281.5 306.3 L282.9 305.6 L284 305.1Z M261.4 321.4 L261.3 323.1 L261.2 324.8 L261.1 326.5 L261 328.1 L261 329.8 L260.9 331.5 L260.8 333.2 L260.7 334.9 L264.3 335.1 L264.4 333.4 L264.5 331.7 L264.6 330 L264.8 328.4 L264.9 326.7 L265 325 L265.1 323.3 L265.2 321.6Z M260.9 334 L260.6 335 L260.3 336 L260 337 L259.7 338 L259.5 339 L259.2 340 L258.9 341 L258.6 342.1 L261.4 342.9 L261.8 342 L262.1 341 L262.4 340 L262.8 339 L263.1 338 L263.4 337 L263.7 336 L264.1 335Z M261 335.2 L261.4 336.2 L261.9 337.1 L262.4 338.1 L262.8 339.1 L263.3 340.1 L263.7 341.1 L264.2 342.1 L264.6 343.1 L267.4 341.9 L267 340.9 L266.5 339.9 L266.1 338.9 L265.7 337.9 L265.3 336.9 L264.9 335.9 L264.4 334.8 L264 333.8Z M268.2 309.8 L266.7 309.6 L265.2 309.5 L263.7 309.3 L262.2 309.1 L260.7 309 L259.2 308.8 L257.7 308.6 L256.2 308.5 L255.8 311.5 L257.3 311.7 L258.8 312 L260.3 312.2 L261.8 312.4 L263.3 312.6 L264.8 312.8 L266.3 313 L267.8 313.2Z M265.6 313.4 L264.8 313.3 L264 313.3 L263.2 313.2 L262.4 313.2 L261.6 313.1 L260.7 313.1 L259.9 313 L259.1 313 L258.9 316 L259.7 316.1 L260.5 316.2 L261.3 316.2 L262.1 316.3 L262.9 316.4 L263.8 316.5 L264.6 316.6 L265.4 316.6Z M251.8 331 L251.6 332.1 L251.3 333.2 L251 334.2 L250.7 335.3 L250.4 336.4 L250.1 337.4 L249.8 338.5 L249.5 339.6 L252.5 340.4 L252.8 339.4 L253.2 338.3 L253.5 337.3 L253.8 336.2 L254.2 335.2 L254.5 334.1 L254.8 333 L255.2 332Z M306.3 283.2 L306.4 284.3 L306.6 285.9 L306.8 287.8 L307 289.9 L307.2 292 L307.3 294.1 L307.4 296.2 L307.4 297.9 L307.4 299.7 L307.2 301.5 L307 303.3 L306.7 305.1 L306.4 306.9 L306.2 308.4 L306 309.7 L305.8 310.7 L309.2 311.3 L309.4 310.3 L309.6 309 L309.9 307.5 L310.2 305.7 L310.5 303.9 L310.8 301.9 L311 300 L311.2 298.1 L311.2 296.1 L311.1 293.9 L311 291.7 L310.8 289.5 L310.7 287.4 L310.5 285.6 L310.4 284 L310.3 282.8Z M282 344.7 L282 345.3 L281.9 346.1 L281.8 347.1 L281.7 348.1 L281.6 349.3 L281.5 350.5 L281.4 351.6 L281.3 352.7 L281.2 353.7 L281.1 354.6 L280.9 355.5 L280.7 356.6 L280.6 357.9 L280.5 359.2 L280.5 360.7 L280.6 362.4 L280.8 364.2 L281 366.1 L281.4 368.2 L281.7 370.3 L282.2 372.5 L282.6 374.7 L283.1 376.8 L283.6 378.8 L284.1 380.8 L284.6 382.7 L285.2 384.6 L285.8 386.5 L286.4 388.4 L287 390.3 L287.6 392.1 L288.3 394 L289 395.9 L289.7 397.8 L290.4 399.7 L291.1 401.6 L291.9 403.5 L292.7 405.4 L293.6 407.3 L294.5 409.2 L295.6 411.2 L296.8 413.2 L298.1 415.2 L299.3 417.2 L300.6 419 L301.7 420.6 L302.6 422 L303.2 423 L307.8 420 L307.1 419 L306.1 417.6 L305 416 L303.8 414.2 L302.6 412.3 L301.4 410.4 L300.4 408.5 L299.5 406.8 L298.7 405.1 L298 403.3 L297.4 401.5 L296.8 399.6 L296.3 397.7 L295.7 395.8 L295.2 393.9 L294.7 392 L294.2 390.1 L293.7 388.3 L293.3 386.4 L292.9 384.6 L292.5 382.8 L292.1 380.9 L291.8 379 L291.4 377.2 L291.1 375.2 L290.7 373.1 L290.3 371 L290 368.9 L289.7 366.9 L289.4 364.9 L289.2 363.2 L289 361.6 L288.9 360.3 L288.9 359.3 L288.9 358.3 L288.9 357.4 L288.9 356.4 L289 355.5 L289 354.4 L289.1 353.3 L289.1 352.2 L289.2 351 L289.3 349.9 L289.3 348.7 L289.4 347.7 L289.5 346.7 L289.5 345.9 L289.6 345.3Z M287.9 391.4 L287.7 392.4 L287.4 393.6 L287.1 395.1 L286.8 396.7 L286.4 398.4 L286 400.2 L285.7 401.9 L285.4 403.4 L285 405 L284.7 406.7 L284.3 408.5 L284 410.2 L283.6 411.8 L283.3 413.3 L283 414.5 L282.9 415.4 L288.1 416.6 L288.3 415.6 L288.6 414.4 L288.9 412.9 L289.2 411.3 L289.6 409.6 L290 407.8 L290.3 406.1 L290.6 404.6 L291 403 L291.3 401.3 L291.7 399.5 L292 397.8 L292.4 396.2 L292.7 394.7 L293 393.5 L293.1 392.6Z M282.8 368.4 L281.8 368.9 L280.5 369.5 L279 370.3 L277.4 371.1 L275.7 371.9 L274 372.7 L272.5 373.4 L271.1 374 L269.9 374.3 L268.9 374.7 L267.9 374.9 L267 375.1 L265.9 375.3 L264.7 375.5 L263.3 375.7 L261.6 376 L259.7 376.3 L257.5 376.7 L255.2 377 L252.8 377.4 L250.2 377.8 L247.7 378.2 L245.2 378.5 L242.8 378.8 L240.4 379.1 L238.1 379.3 L235.6 379.5 L233.2 379.7 L230.8 379.9 L228.4 380.2 L225.9 380.6 L223.6 381.1 L221.1 381.8 L218.6 382.7 L216.1 383.7 L213.6 384.7 L211.3 385.7 L209.3 386.6 L207.6 387.4 L206.3 387.9 L207.7 391.1 L209 390.6 L210.7 389.8 L212.7 389 L215 388 L217.4 387.1 L219.8 386.2 L222.2 385.5 L224.4 384.9 L226.6 384.5 L228.9 384.2 L231.2 383.9 L233.5 383.8 L235.9 383.7 L238.4 383.5 L240.8 383.4 L243.2 383.2 L245.7 382.9 L248.2 382.6 L250.8 382.4 L253.4 382.1 L255.9 381.8 L258.2 381.5 L260.4 381.3 L262.4 381 L264 380.8 L265.5 380.6 L266.7 380.4 L267.9 380.3 L269 380.1 L270.2 379.8 L271.5 379.5 L272.9 379 L274.5 378.5 L276.2 377.8 L278 377 L279.8 376.1 L281.5 375.3 L283.1 374.6 L284.3 374 L285.2 373.6Z M227.3 381.2 L226.7 380.7 L225.9 379.9 L225 379 L224 378.1 L222.9 377 L221.9 376.1 L221 375.1 L220.3 374.4 L219.7 373.7 L219.2 373 L218.6 372.3 L218.2 371.7 L217.8 371.1 L217.4 370.5 L217.1 370 L216.8 369.6 L214.2 371.4 L214.4 371.7 L214.7 372.2 L215 372.8 L215.4 373.5 L215.9 374.2 L216.4 375 L217 375.8 L217.7 376.6 L218.5 377.5 L219.4 378.5 L220.4 379.5 L221.5 380.6 L222.5 381.6 L223.4 382.5 L224.2 383.2 L224.7 383.8Z M218.9 373.9 L218 373.7 L217.1 373.6 L216.3 373.4 L215.4 373.2 L214.6 373 L213.7 372.9 L212.9 372.7 L212 372.5 L211.4 375.5 L212.2 375.7 L213.1 375.9 L213.9 376.1 L214.8 376.3 L215.6 376.5 L216.5 376.7 L217.3 376.9 L218.1 377.1Z M267 375.2 L266.5 375.8 L265.9 376.5 L265.1 377.4 L264.3 378.3 L263.4 379.3 L262.6 380.4 L261.7 381.3 L260.9 382.2 L260.2 383.1 L259.4 384.1 L258.6 385 L257.8 385.9 L257.1 386.8 L256.4 387.6 L255.9 388.3 L255.4 388.8 L259.6 392.2 L260 391.7 L260.5 391.1 L261.2 390.3 L261.9 389.4 L262.7 388.5 L263.5 387.6 L264.3 386.6 L265.1 385.8 L265.8 384.9 L266.7 383.9 L267.5 382.9 L268.4 381.9 L269.2 380.9 L270 380 L270.6 379.3 L271 378.8Z M285.4 383.8 L284.2 384.7 L282.6 385.9 L280.7 387.3 L278.5 388.8 L276.3 390.5 L274.1 392.1 L272 393.6 L270.1 394.9 L268.3 396.2 L266.7 397.4 L265.1 398.5 L263.6 399.6 L262.1 400.7 L260.6 401.6 L259.1 402.5 L257.5 403.4 L255.8 404.2 L254 404.9 L252.1 405.6 L250.2 406.3 L248.2 406.9 L246.3 407.5 L244.4 408 L242.5 408.5 L240.7 408.9 L238.8 409.3 L236.8 409.6 L234.8 409.9 L232.9 410.2 L231.3 410.4 L229.9 410.6 L228.8 410.7 L229.2 414.3 L230.3 414.2 L231.7 414 L233.4 413.9 L235.3 413.7 L237.3 413.5 L239.4 413.2 L241.5 412.9 L243.5 412.5 L245.4 412.1 L247.4 411.6 L249.4 411.1 L251.5 410.5 L253.5 409.9 L255.6 409.2 L257.6 408.5 L259.5 407.6 L261.4 406.7 L263.1 405.7 L264.8 404.7 L266.4 403.6 L268 402.5 L269.6 401.4 L271.2 400.2 L272.9 399.1 L274.9 397.8 L277 396.3 L279.3 394.7 L281.6 393.1 L283.8 391.6 L285.7 390.2 L287.4 389.1 L288.6 388.2Z M256.1 405 L255.8 406 L255.5 407.3 L255.1 408.9 L254.7 410.6 L254.3 412.5 L253.9 414.3 L253.5 416.1 L253.2 417.7 L253 419.2 L252.7 420.8 L252.6 422.4 L252.4 423.9 L252.3 425.3 L252.1 426.6 L252 427.6 L252 428.4 L255.2 428.8 L255.3 428 L255.5 426.9 L255.6 425.7 L255.8 424.3 L256 422.8 L256.3 421.3 L256.5 419.8 L256.8 418.3 L257.1 416.8 L257.5 415.1 L258 413.3 L258.5 411.6 L258.9 409.8 L259.3 408.3 L259.7 407 L259.9 406Z M253.4 418.9 L252.6 419.2 L251.7 419.5 L250.8 419.9 L250 420.2 L249.1 420.5 L248.2 420.9 L247.3 421.2 L246.5 421.5 L247.5 424.5 L248.4 424.2 L249.3 423.9 L250.2 423.6 L251 423.3 L251.9 423 L252.8 422.7 L253.7 422.4 L254.6 422.1Z M247.6 409.5 L247.4 408.7 L247.1 407.9 L246.8 407.2 L246.6 406.4 L246.3 405.6 L246 404.9 L245.7 404.1 L245.5 403.3 L242.5 404.3 L242.8 405.1 L243 405.8 L243.2 406.6 L243.4 407.4 L243.7 408.2 L243.9 409 L244.1 409.7 L244.4 410.5Z M237.8 410.7 L237.7 411.7 L237.5 412.8 L237.4 413.8 L237.3 414.8 L237.2 415.8 L237 416.8 L236.9 417.8 L236.8 418.8 L239.8 419.2 L240 418.2 L240.2 417.2 L240.3 416.2 L240.5 415.2 L240.7 414.2 L240.9 413.2 L241 412.3 L241.2 411.3Z M256 406.4 L255.8 405.8 L255.5 405.2 L255.3 404.6 L255 403.9 L254.8 403.3 L254.5 402.7 L254.3 402.1 L254 401.5 L251.2 402.5 L251.4 403.2 L251.6 403.8 L251.9 404.4 L252.1 405.1 L252.3 405.7 L252.5 406.3 L252.7 407 L253 407.6Z M269.7 396.4 L269.6 398.1 L269.6 399.7 L269.5 401.3 L269.5 402.9 L269.5 404.6 L269.4 406.2 L269.4 407.8 L269.4 409.4 L274 409.6 L274.1 407.9 L274.1 406.3 L274.2 404.7 L274.2 403.1 L274.2 401.4 L274.3 399.8 L274.3 398.2 L274.3 396.6Z M280 391.2 L280.2 392.8 L280.3 394.4 L280.5 396 L280.6 397.6 L280.8 399.3 L281 400.9 L281.1 402.5 L281.3 404.1 L284.7 403.9 L284.6 402.2 L284.5 400.6 L284.4 399 L284.4 397.4 L284.3 395.7 L284.2 394.1 L284.1 392.5 L284 390.8Z M281.3 395.8 L280.6 396.6 L279.8 397.4 L279.1 398.1 L278.3 398.9 L277.6 399.6 L276.8 400.4 L276.1 401.2 L275.3 401.9 L277.5 404.1 L278.2 403.3 L279 402.6 L279.8 401.9 L280.6 401.1 L281.3 400.4 L282.1 399.6 L282.9 398.9 L283.7 398.2Z M288.9 378.5 L290.2 378.5 L292 378.6 L294.1 378.7 L296.4 378.8 L298.9 378.9 L301.4 379 L303.8 378.9 L306.1 378.8 L308.4 378.6 L310.7 378.2 L313.1 377.8 L315.4 377.4 L317.6 376.9 L319.5 376.5 L321.1 376.2 L322.3 375.9 L321.7 372.7 L320.5 372.9 L318.8 373.2 L316.9 373.6 L314.7 374 L312.5 374.4 L310.2 374.7 L308 375 L305.9 375.2 L303.8 375.2 L301.4 375.2 L299 375.1 L296.6 375 L294.3 374.8 L292.2 374.7 L290.4 374.6 L289.1 374.5Z M306.2 378.1 L307.1 379.1 L308 380.1 L308.9 381 L309.8 382 L310.7 383 L311.6 383.9 L312.5 384.9 L313.3 385.8 L315.7 383.8 L314.8 382.8 L313.9 381.8 L313.1 380.8 L312.2 379.8 L311.4 378.8 L310.5 377.8 L309.6 376.8 L308.8 375.9Z M290.9 388.2 L291.5 388.6 L292.3 389.1 L293.3 389.8 L294.5 390.6 L295.7 391.4 L296.9 392.1 L298.2 392.7 L299.4 393.2 L300.7 393.5 L301.9 393.6 L303 393.6 L304.1 393.5 L305.1 393.4 L306 393.3 L306.6 393.2 L307.1 393.1 L306.9 389.9 L306.3 389.9 L305.6 389.9 L304.7 390 L303.9 390.1 L303 390.1 L302.1 390.1 L301.3 390 L300.6 389.8 L299.8 389.4 L298.8 388.9 L297.7 388.2 L296.6 387.4 L295.6 386.6 L294.6 385.9 L293.8 385.3 L293.1 384.8Z M298.3 391.5 L298.3 392.3 L298.3 393.1 L298.3 393.9 L298.4 394.8 L298.4 395.6 L298.4 396.4 L298.4 397.2 L298.4 398 L301.6 398 L301.6 397.2 L301.6 396.4 L301.6 395.6 L301.6 394.8 L301.7 393.9 L301.7 393.1 L301.7 392.3 L301.7 391.5Z M435.8 235.9 L436.4 236 L437.2 236.1 L438.2 236.3 L439.4 236.4 L440.6 236.5 L441.8 236.6 L443.1 236.6 L444.3 236.5 L445.5 236.2 L446.8 235.9 L448.1 235.4 L449.4 235 L450.6 234.5 L451.6 234 L452.5 233.6 L453.2 233.4 L450.8 221.6 L450.1 221.6 L449.1 221.7 L447.9 221.7 L446.6 221.7 L445.3 221.7 L444 221.8 L442.8 221.9 L441.7 222.1 L440.7 222.4 L439.7 222.7 L438.6 223.1 L437.5 223.6 L436.5 224 L435.6 224.5 L434.8 224.8 L434.2 225.1Z M450.2 233.6 L450.8 233.3 L451.7 232.8 L453.1 232.2 L454.7 231.5 L456.5 230.6 L458.4 229.4 L460.3 227.9 L461.9 225.9 L463.1 223.8 L463.9 221.7 L464.4 219.5 L464.8 217.4 L465.2 215.3 L465.4 213.2 L465.6 211.3 L465.8 209.5 L465.9 207.8 L466 206.2 L466 204.6 L466 203 L465.9 201.4 L465.7 199.8 L465.5 198.1 L465.3 196.3 L465 194.3 L464.7 192.2 L464.3 189.9 L463.9 187.6 L463.5 185.2 L462.9 182.9 L462.2 180.7 L461.4 178.7 L460.4 176.8 L459.2 175.1 L457.9 173.6 L456.6 172.3 L455.4 171.2 L454.3 170.2 L453.4 169.5 L452.8 168.9 L449.2 172.1 L449.7 172.9 L450.5 173.8 L451.4 174.9 L452.3 176.1 L453.2 177.4 L454 178.7 L454.6 180 L455.2 181.3 L455.6 182.8 L456 184.6 L456.4 186.6 L456.8 188.8 L457.1 191 L457.3 193.1 L457.6 195.2 L457.7 197.1 L457.8 198.8 L457.9 200.3 L457.9 201.7 L457.9 203 L457.8 204.3 L457.7 205.6 L457.5 207 L457.2 208.5 L456.9 210.2 L456.6 212 L456.3 213.8 L455.9 215.5 L455.5 217.2 L455 218.5 L454.5 219.6 L454.1 220.1 L453.7 220.3 L453 220.6 L452 220.9 L450.8 221.2 L449.5 221.5 L448.2 221.8 L446.8 222.1 L445.8 222.4Z M453.1 170 L452.2 169.2 L451.1 168 L449.7 166.6 L448.2 165.1 L446.7 163.6 L445.1 162 L443.6 160.7 L442.2 159.5 L440.9 158.6 L439.7 157.7 L438.4 157 L437.2 156.4 L436.1 155.8 L435.2 155.4 L434.4 155 L433.8 154.7 L432.2 157.7 L432.8 158.1 L433.6 158.5 L434.5 159 L435.5 159.5 L436.5 160.2 L437.6 160.9 L438.7 161.6 L439.8 162.5 L440.9 163.6 L442.3 164.9 L443.8 166.4 L445.3 168 L446.7 169.5 L448 170.9 L449.1 172.1 L449.9 173Z M442.2 160.4 L442.1 159.3 L442 158.3 L441.9 157.3 L441.8 156.3 L441.7 155.3 L441.6 154.3 L441.5 153.3 L441.3 152.3 L438.3 152.5 L438.3 153.5 L438.4 154.6 L438.5 155.6 L438.5 156.6 L438.6 157.6 L438.7 158.6 L438.7 159.6 L438.8 160.6Z M453.4 171.3 L453.3 170.4 L453.2 169.2 L453 167.8 L452.9 166.1 L452.7 164.4 L452.6 162.7 L452.4 161.2 L452.1 159.7 L451.9 158.4 L451.6 157.1 L451.3 155.8 L450.9 154.6 L450.6 153.5 L450.3 152.5 L450.1 151.7 L449.9 151.1 L446.7 151.9 L446.8 152.6 L447.1 153.4 L447.3 154.4 L447.6 155.5 L447.8 156.6 L448.1 157.8 L448.3 159.1 L448.5 160.3 L448.6 161.6 L448.7 163.1 L448.9 164.8 L449 166.4 L449 168 L449.1 169.5 L449.2 170.7 L449.2 171.7Z M451.9 160.4 L452.2 159.3 L452.4 158.3 L452.7 157.2 L452.9 156.2 L453.2 155.1 L453.5 154 L453.7 153 L454 151.9 L451 151.1 L450.7 152.2 L450.4 153.2 L450.1 154.3 L449.9 155.3 L449.6 156.4 L449.3 157.5 L449 158.5 L448.7 159.6Z M453.1 172.8 L453.6 172.1 L454.4 171.2 L455.3 170 L456.2 168.8 L457.2 167.5 L458.2 166.3 L459.1 165.2 L459.9 164.2 L460.6 163.4 L461.3 162.7 L462 161.9 L462.7 161.2 L463.3 160.6 L463.9 160.1 L464.4 159.6 L464.7 159.2 L462.5 156.8 L462.1 157.1 L461.6 157.6 L461 158.1 L460.3 158.7 L459.5 159.4 L458.7 160.1 L457.9 160.9 L457.1 161.8 L456.2 162.7 L455.2 163.8 L454.2 165.1 L453.1 166.3 L452.1 167.5 L451.2 168.6 L450.5 169.5 L449.9 170.2Z M460.1 162.9 L460.1 161.8 L460 160.7 L459.9 159.6 L459.8 158.5 L459.7 157.5 L459.6 156.4 L459.5 155.3 L459.4 154.2 L456.4 154.4 L456.4 155.5 L456.5 156.6 L456.5 157.7 L456.6 158.8 L456.7 159.8 L456.7 160.9 L456.8 162 L456.9 163.1Z M464.2 208.4 L464.8 207.7 L465.5 206.8 L466.4 205.7 L467.4 204.5 L468.4 203.3 L469.5 202 L470.5 200.9 L471.4 199.9 L472.3 199.1 L473.3 198.2 L474.3 197.3 L475.3 196.4 L476.3 195.6 L477.2 194.9 L478 194.3 L478.5 193.9 L476.5 191.1 L475.9 191.6 L475.1 192.1 L474.2 192.8 L473.1 193.5 L472 194.3 L470.8 195.2 L469.7 196.1 L468.6 197.1 L467.5 198.1 L466.4 199.3 L465.3 200.5 L464.2 201.7 L463.1 202.9 L462.2 204 L461.4 204.9 L460.8 205.6Z M471.7 199.1 L471.8 197.8 L471.9 196.5 L472 195.1 L472 193.8 L472.1 192.4 L472.2 191.1 L472.3 189.8 L472.3 188.4 L469.3 188.2 L469.1 189.5 L469 190.9 L468.9 192.2 L468.8 193.5 L468.6 194.9 L468.5 196.2 L468.4 197.5 L468.3 198.9Z M464.4 217.5 L465.1 217 L466.2 216.3 L467.5 215.4 L469 214.4 L470.6 213.3 L472.1 212.1 L473.6 210.8 L474.9 209.5 L476.1 208 L477.2 206.3 L478.1 204.6 L479 202.8 L479.8 201.2 L480.5 199.7 L481.1 198.4 L481.6 197.6 L478.4 195.8 L477.9 196.7 L477.2 198 L476.4 199.4 L475.5 200.9 L474.6 202.5 L473.6 204 L472.6 205.4 L471.7 206.5 L470.6 207.5 L469.3 208.5 L467.9 209.5 L466.4 210.5 L465 211.4 L463.7 212.2 L462.5 212.9 L461.6 213.5Z M463.9 222.5 L464.9 222.1 L466.2 221.4 L467.7 220.7 L469.5 219.9 L471.2 219 L473 218.2 L474.5 217.5 L475.9 216.8 L477 216.2 L478 215.7 L479 215.1 L479.9 214.7 L480.7 214.2 L481.4 213.8 L482 213.5 L482.5 213.2 L480.9 210.2 L480.4 210.4 L479.8 210.7 L479.1 211 L478.3 211.4 L477.4 211.8 L476.4 212.2 L475.3 212.7 L474.1 213.2 L472.8 213.8 L471.2 214.5 L469.5 215.2 L467.7 216 L466 216.8 L464.4 217.5 L463.1 218.1 L462.1 218.5Z M457.7 227.1 L459 227.2 L460.8 227.3 L462.9 227.5 L465.2 227.6 L467.7 227.8 L470.1 228 L472.5 228.3 L474.6 228.5 L476.6 228.8 L478.5 229.1 L480.4 229.5 L482.3 229.8 L484.3 230.2 L486.2 230.6 L488.3 231 L490.4 231.5 L492.5 232 L494.7 232.6 L497 233.2 L499.3 233.8 L501.7 234.5 L504.2 235.1 L506.8 235.8 L509.4 236.4 L512.3 236.9 L515.5 237.5 L518.9 238.1 L522.2 238.7 L525.4 239.3 L528.3 239.7 L530.7 240.2 L532.5 240.5 L533.5 233.9 L531.7 233.7 L529.2 233.4 L526.4 233 L523.2 232.6 L519.8 232.1 L516.5 231.6 L513.4 231.1 L510.6 230.6 L508 230.1 L505.6 229.6 L503.2 229 L500.8 228.4 L498.4 227.8 L496.1 227.2 L493.9 226.6 L491.6 226.1 L489.5 225.6 L487.4 225.2 L485.4 224.7 L483.4 224.3 L481.5 223.9 L479.5 223.5 L477.5 223.2 L475.4 222.9 L473.2 222.5 L470.7 222.2 L468.2 221.9 L465.8 221.7 L463.4 221.4 L461.3 221.2 L459.6 221.1 L458.3 220.9Z M506.7 232.1 L507.2 231.2 L507.9 230.1 L508.8 228.7 L509.8 227.2 L510.8 225.6 L511.8 224 L512.7 222.4 L513.6 221 L514.4 219.5 L515.3 218 L516.2 216.5 L517 214.9 L517.8 213.5 L518.5 212.2 L519.1 211.2 L519.5 210.3 L516.5 208.7 L516 209.5 L515.4 210.5 L514.7 211.8 L513.9 213.2 L513 214.7 L512.1 216.2 L511.3 217.7 L510.4 219 L509.5 220.4 L508.6 222 L507.5 223.5 L506.5 225.1 L505.5 226.6 L504.6 227.9 L503.9 229.1 L503.3 229.9Z M522.4 235.3 L523.5 234.1 L524.5 233 L525.5 231.8 L526.5 230.6 L527.5 229.5 L528.5 228.3 L529.6 227.1 L530.6 226 L528 223.6 L527 224.8 L525.9 225.9 L524.9 227 L523.8 228.2 L522.7 229.3 L521.7 230.4 L520.6 231.6 L519.6 232.7Z M464.8 227.9 L465.6 229.1 L466.3 230.3 L467 231.6 L467.7 232.8 L468.5 234.1 L469.2 235.3 L469.9 236.5 L470.6 237.8 L473.4 236.2 L472.7 235 L472 233.7 L471.3 232.4 L470.7 231.2 L470 229.9 L469.3 228.7 L468.6 227.4 L468 226.1Z M469 231 L468.5 231.2 L467.9 231.4 L467.3 231.6 L466.8 231.8 L466.2 232 L465.7 232.2 L465.1 232.4 L464.5 232.6 L465.5 235.4 L466 235.2 L466.6 235 L467.2 234.8 L467.7 234.7 L468.3 234.5 L468.9 234.3 L469.4 234.1 L470 234Z M493.3 230.4 L493.8 232.3 L494.3 234.1 L494.8 236 L495.3 237.8 L495.8 239.7 L496.3 241.5 L496.8 243.3 L497.3 245.2 L500.3 244.4 L499.9 242.6 L499.4 240.7 L499 238.8 L498.5 237 L498.1 235.1 L497.6 233.3 L497.2 231.4 L496.7 229.6Z M496.5 238.3 L496.1 238.6 L495.8 239 L495.4 239.3 L495 239.6 L494.7 239.9 L494.3 240.2 L493.9 240.6 L493.6 240.9 L495.4 243.1 L495.8 242.8 L496.2 242.5 L496.6 242.2 L497 241.9 L497.3 241.6 L497.7 241.3 L498.1 241 L498.5 240.7Z M460.5 283.2 L461.3 283.6 L462.3 284.1 L463.4 284.7 L464.7 285.4 L466.1 286.1 L467.5 286.8 L468.8 287.5 L470 288.1 L471.1 288.6 L472.2 289.2 L473.4 289.8 L474.6 290.4 L476 291.1 L477.4 291.7 L478.9 292.3 L480.3 292.8 L481.7 293.2 L483 293.5 L484.4 293.9 L485.9 294.2 L487.5 294.5 L489.2 294.7 L491 294.7 L492.9 294.7 L495 294.5 L497.2 294.2 L499.4 293.8 L501.7 293.3 L504 292.8 L506.2 292.3 L508.4 291.8 L510.4 291.4 L512.4 291 L514.4 290.5 L516.2 290 L518 289.6 L519.8 289.1 L521.6 288.8 L523.4 288.4 L525.2 288.2 L527.2 288 L529.4 287.9 L531.8 287.9 L534.1 287.9 L536.3 287.9 L538.4 288 L540.1 288 L541.4 288 L541.4 284 L540.2 284 L538.5 283.9 L536.4 283.8 L534.2 283.7 L531.8 283.7 L529.4 283.7 L527 283.7 L524.8 283.8 L522.8 284 L520.8 284.3 L518.9 284.6 L517 285 L515.2 285.3 L513.4 285.7 L511.5 286 L509.6 286.2 L507.5 286.4 L505.3 286.6 L503 286.9 L500.8 287 L498.6 287.2 L496.6 287.2 L494.7 287.2 L493.1 287.1 L491.7 286.9 L490.4 286.6 L489.3 286.3 L488.2 285.9 L487.2 285.4 L486.1 284.9 L484.9 284.4 L483.7 283.8 L482.5 283.3 L481.5 282.8 L480.4 282.2 L479.2 281.6 L478 280.9 L476.8 280.2 L475.4 279.5 L474 278.9 L472.6 278.4 L471.1 277.9 L469.5 277.4 L468 277 L466.6 276.6 L465.3 276.3 L464.3 276 L463.5 275.8Z M511.9 289.9 L512.3 288.9 L513 287.5 L513.8 285.8 L514.7 284 L515.6 282 L516.4 280.1 L517.2 278.3 L517.8 276.6 L518.2 275 L518.5 273.4 L518.8 271.9 L518.9 270.4 L519.1 269.1 L519.2 267.9 L519.2 266.9 L519.3 266.2 L515.9 265.8 L515.8 266.6 L515.7 267.6 L515.6 268.7 L515.4 270 L515.2 271.3 L515 272.7 L514.6 274.1 L514.2 275.4 L513.7 276.9 L512.9 278.6 L512 280.4 L511.1 282.3 L510.2 284.1 L509.4 285.7 L508.6 287.1 L508.1 288.1Z M517.3 276 L518.2 275.6 L519.2 275.1 L520.2 274.6 L521.1 274.1 L522.1 273.6 L523 273.1 L524 272.6 L525 272.1 L523.6 269.3 L522.6 269.8 L521.7 270.2 L520.7 270.7 L519.7 271.1 L518.7 271.6 L517.7 272 L516.7 272.5 L515.7 273Z M526.4 287.3 L527.3 286.2 L528.3 285.1 L529.3 284 L530.3 282.9 L531.3 281.8 L532.2 280.7 L533.2 279.6 L534.2 278.5 L531.8 276.3 L530.8 277.3 L529.8 278.4 L528.7 279.4 L527.7 280.5 L526.7 281.6 L525.7 282.6 L524.7 283.7 L523.6 284.7Z M505.2 292.1 L506.4 292.7 L507.6 293.3 L508.9 293.9 L510.1 294.5 L511.3 295.1 L512.5 295.7 L513.8 296.3 L515 296.9 L516.4 294.1 L515.2 293.5 L514 292.8 L512.8 292.2 L511.6 291.5 L510.4 290.9 L509.2 290.2 L508 289.6 L506.8 288.9Z M472.4 293.2 L473.1 293.7 L474.1 294.4 L475.3 295.3 L476.6 296.3 L478.1 297.3 L479.5 298.4 L481 299.5 L482.5 300.5 L484 301.6 L485.6 302.7 L487.3 303.9 L489 305.1 L490.7 306.3 L492.3 307.4 L493.8 308.6 L495.2 309.7 L496.5 310.8 L497.7 311.9 L498.9 313 L500 314.1 L501.1 315.2 L502.2 316.3 L503.3 317.5 L504.5 318.8 L505.6 320.1 L506.8 321.5 L507.9 323 L509.2 324.5 L510.4 326 L511.7 327.5 L513 329 L514.4 330.3 L516 331.5 L517.7 332.6 L519.4 333.6 L521.1 334.5 L522.7 335.3 L524.1 336 L525.3 336.6 L526.1 337.1 L527.9 333.9 L527 333.4 L525.8 332.8 L524.4 332.1 L522.8 331.2 L521.3 330.3 L519.7 329.4 L518.2 328.4 L517 327.3 L515.8 326.2 L514.6 324.9 L513.5 323.5 L512.3 322 L511.1 320.5 L510 319 L508.8 317.4 L507.5 316 L506.4 314.7 L505.3 313.5 L504.2 312.3 L503.1 311.1 L502 309.9 L500.8 308.7 L499.5 307.5 L498.2 306.3 L496.7 305 L495.1 303.7 L493.5 302.5 L491.8 301.2 L490.1 299.9 L488.5 298.7 L487 297.6 L485.5 296.5 L484.1 295.4 L482.6 294.2 L481.2 293.1 L479.8 292.1 L478.5 291.1 L477.3 290.2 L476.4 289.4 L475.6 288.8Z M504.7 314.2 L505.7 313.9 L506.8 313.7 L507.9 313.4 L508.9 313.2 L510 313 L511.1 312.7 L512.1 312.5 L513.2 312.2 L512.6 309.2 L511.5 309.4 L510.4 309.6 L509.3 309.8 L508.3 310 L507.2 310.2 L506.1 310.4 L505 310.6 L503.9 310.8Z M508.3 321.3 L508.1 321.8 L507.8 322.5 L507.4 323.4 L507 324.4 L506.6 325.4 L506.1 326.5 L505.7 327.5 L505.4 328.4 L505.1 329.3 L504.8 330.2 L504.5 331.1 L504.2 331.9 L504 332.7 L503.8 333.4 L503.6 334 L503.4 334.5 L506.6 335.5 L506.7 335 L506.9 334.4 L507.2 333.7 L507.4 333 L507.7 332.1 L508 331.3 L508.3 330.4 L508.6 329.6 L509 328.8 L509.4 327.8 L509.8 326.8 L510.3 325.8 L510.7 324.9 L511.1 324 L511.5 323.3 L511.7 322.7Z M503.5 334 L503.2 334.9 L502.9 335.9 L502.6 336.8 L502.3 337.8 L502 338.7 L501.7 339.6 L501.3 340.6 L501 341.5 L503.8 342.5 L504.1 341.5 L504.4 340.6 L504.8 339.7 L505.1 338.7 L505.5 337.8 L505.8 336.9 L506.1 335.9 L506.5 335Z M503.6 335.2 L504.1 336 L504.5 336.8 L505 337.7 L505.4 338.5 L505.9 339.3 L506.3 340.1 L506.8 340.9 L507.2 341.7 L509.8 340.3 L509.4 339.5 L508.9 338.7 L508.5 337.9 L508.1 337 L507.6 336.2 L507.2 335.4 L506.8 334.6 L506.4 333.8Z M514 328.7 L514.1 330 L514.3 331.4 L514.4 332.7 L514.6 334.1 L514.7 335.4 L514.9 336.7 L515 338.1 L515.2 339.4 L518.2 339.2 L518.1 337.8 L518 336.5 L517.9 335.1 L517.8 333.7 L517.7 332.4 L517.6 331 L517.5 329.7 L517.4 328.3Z M457.9 289.1 L458.1 291.6 L458.3 294.1 L458.5 296.6 L458.7 299 L458.9 301.5 L459.1 304 L459.3 306.5 L459.5 308.9 L463.3 308.7 L463.1 306.2 L463 303.7 L462.8 301.2 L462.7 298.8 L462.5 296.3 L462.4 293.8 L462.2 291.3 L462.1 288.9Z M449.8 308.3 L450.4 308 L451 307.6 L451.7 307.2 L452.3 306.8 L452.9 306.5 L453.5 306.1 L454.2 305.7 L454.8 305.3 L453.2 302.7 L452.6 303 L452 303.4 L451.3 303.8 L450.7 304.2 L450.1 304.5 L449.5 304.9 L448.8 305.3 L448.2 305.7Z M480.2 348.3 L480.2 349 L480.3 349.7 L480.4 350.5 L480.4 351.3 L480.4 352.2 L480.4 353.3 L480.4 354.4 L480.4 355.8 L480.3 357.4 L480.2 359.3 L480.1 361.3 L479.9 363.4 L479.8 365.6 L479.5 367.8 L479.2 370 L478.9 372.1 L478.4 374.3 L477.8 376.5 L477.2 378.9 L476.4 381.3 L475.7 383.7 L474.9 386.1 L474.1 388.6 L473.3 391.1 L472.5 393.5 L471.7 396.1 L470.8 398.7 L470 401.2 L469.2 403.7 L468.4 406 L467.6 408.1 L466.8 409.9 L466.1 411.4 L465.4 412.8 L464.6 414 L463.8 415.1 L463.1 416.1 L462.4 417 L461.8 417.8 L461.4 418.5 L465.8 421.5 L466.2 421 L466.8 420.2 L467.4 419.3 L468.2 418.2 L469.1 417 L470 415.5 L470.9 413.9 L471.8 412.1 L472.6 410.1 L473.5 407.9 L474.3 405.5 L475.2 403 L476.1 400.4 L477 397.9 L477.8 395.3 L478.7 392.9 L479.6 390.6 L480.6 388.3 L481.6 385.9 L482.6 383.5 L483.6 381.1 L484.6 378.7 L485.4 376.3 L486.1 373.9 L486.8 371.4 L487.3 369 L487.7 366.6 L488 364.2 L488.3 362 L488.5 359.9 L488.7 358 L488.8 356.2 L488.9 354.6 L488.9 353.1 L488.8 351.7 L488.7 350.5 L488.5 349.5 L488.4 348.7 L488.2 348.1 L488.2 347.7Z M478.5 379.8 L478.4 381.1 L478.2 383 L478 385.2 L477.7 387.7 L477.5 390.4 L477.4 393 L477.4 395.7 L477.5 398.2 L477.7 400.6 L478.2 403.2 L478.7 405.7 L479.4 408.2 L480 410.5 L480.5 412.6 L481 414.3 L481.3 415.6 L485.9 414.4 L485.5 413.1 L485.1 411.3 L484.5 409.3 L483.9 407 L483.3 404.7 L482.8 402.3 L482.4 400 L482.1 397.8 L482.1 395.7 L482.2 393.2 L482.3 390.7 L482.6 388.2 L482.9 385.7 L483.1 383.5 L483.4 381.7 L483.5 380.2Z M480.4 368.7 L479 369 L477.2 369.6 L475.1 370.2 L472.8 370.9 L470.3 371.6 L467.9 372.1 L465.6 372.6 L463.5 372.9 L461.4 372.9 L459.1 372.8 L456.6 372.6 L454.2 372.3 L451.9 372 L449.8 371.7 L448 371.4 L446.7 371.2 L446.1 374.8 L447.4 375 L449.2 375.3 L451.3 375.7 L453.6 376.2 L456.1 376.6 L458.7 376.9 L461.3 377.1 L463.7 377.1 L466.2 376.9 L468.8 376.5 L471.4 376 L474 375.3 L476.4 374.7 L478.5 374.1 L480.3 373.7 L481.6 373.3Z M458.6 374.4 L457.8 375.5 L457.1 376.5 L456.4 377.5 L455.7 378.6 L454.9 379.6 L454.2 380.6 L453.5 381.6 L452.8 382.7 L455.2 384.5 L456 383.5 L456.8 382.5 L457.6 381.5 L458.3 380.5 L459.1 379.5 L459.9 378.6 L460.7 377.6 L461.4 376.6Z M477.9 375.3 L477.5 375.8 L477 376.5 L476.4 377.3 L475.6 378.2 L474.9 379.2 L474.2 380.1 L473.5 381 L472.9 381.8 L472.3 382.6 L471.9 383.4 L471.5 384.1 L471.2 384.7 L470.8 385.2 L470.5 385.6 L470.2 386 L469.7 386.4 L469 386.8 L468.1 387.2 L466.9 387.6 L465.7 387.9 L464.4 388.3 L463.3 388.6 L462.3 388.9 L461.6 389.1 L462.4 392.3 L463.1 392.2 L464.1 391.9 L465.3 391.7 L466.6 391.4 L467.9 391 L469.3 390.6 L470.5 390.2 L471.7 389.6 L472.6 389 L473.4 388.2 L474 387.5 L474.5 386.8 L474.9 386.1 L475.3 385.4 L475.7 384.8 L476.1 384.2 L476.7 383.4 L477.4 382.6 L478.1 381.6 L478.8 380.7 L479.5 379.8 L480.2 378.9 L480.7 378.2 L481.1 377.7Z M469 387 L468.7 388.2 L468.3 389.3 L468 390.5 L467.7 391.6 L467.4 392.8 L467.1 393.9 L466.7 395.1 L466.4 396.2 L469.6 397.2 L469.9 396 L470.3 394.9 L470.6 393.7 L471 392.6 L471.4 391.4 L471.7 390.3 L472.1 389.1 L472.4 388Z M482.3 357.4 L482.6 358.1 L483.1 359 L483.6 360.1 L484.3 361.4 L485 362.8 L485.8 364.2 L486.7 365.5 L487.6 366.8 L488.4 367.9 L489.2 368.9 L490.1 370 L491.1 371.1 L492.2 372.2 L493.4 373.4 L494.9 374.4 L496.5 375.5 L498.4 376.5 L500.5 377.5 L502.7 378.4 L505 379.3 L507.4 380.2 L509.8 381 L512.1 381.7 L514.3 382.3 L516.4 382.8 L518.5 383.2 L520.6 383.5 L522.6 383.7 L524.5 383.9 L526.4 384 L528.2 384 L530 384 L531.7 384 L533.6 383.9 L535.4 383.7 L537 383.5 L538.6 383.3 L540 383.1 L541.1 382.9 L541.9 382.8 L541.5 378.6 L540.6 378.7 L539.4 378.8 L538 378.9 L536.5 379.1 L534.9 379.2 L533.3 379.3 L531.7 379.4 L530 379.4 L528.4 379.3 L526.7 379.1 L524.9 379 L523.1 378.8 L521.3 378.5 L519.4 378.2 L517.6 377.8 L515.7 377.3 L513.7 376.6 L511.5 375.9 L509.3 375.1 L507.1 374.2 L504.9 373.3 L502.9 372.3 L501 371.4 L499.5 370.5 L498.2 369.7 L497.2 368.9 L496.2 368 L495.4 367.2 L494.7 366.2 L493.9 365.3 L493.2 364.3 L492.4 363.2 L491.7 362.2 L491 361.1 L490.4 359.8 L489.7 358.6 L489.1 357.4 L488.6 356.3 L488.1 355.3 L487.7 354.6Z M542.1 382.7 L542.7 382.3 L543.4 381.8 L544.3 381.1 L545.3 380.5 L546.3 379.7 L547.3 378.9 L548.3 378.1 L549.2 377.3 L550 376.5 L550.8 375.6 L551.6 374.7 L552.3 373.7 L552.9 372.9 L553.5 372.1 L553.9 371.5 L554.3 371 L551.7 369 L551.3 369.5 L550.8 370.1 L550.2 370.8 L549.6 371.6 L548.9 372.5 L548.2 373.3 L547.5 374 L546.8 374.7 L546 375.3 L545.1 376 L544.1 376.6 L543.1 377.3 L542.1 377.9 L541.2 378.5 L540.4 379 L539.9 379.3Z M540.6 382.5 L541.5 382.6 L542.6 382.8 L543.9 383.1 L545.4 383.3 L547 383.6 L548.6 384 L550.1 384.3 L551.5 384.7 L552.9 385.2 L554.4 385.7 L556 386.3 L557.5 386.9 L559 387.5 L560.4 388.1 L561.5 388.6 L562.4 388.9 L563.6 385.9 L562.8 385.5 L561.7 385 L560.3 384.4 L558.8 383.8 L557.3 383.1 L555.6 382.4 L554 381.8 L552.5 381.3 L551 380.8 L549.4 380.4 L547.8 380 L546.2 379.6 L544.7 379.3 L543.4 379 L542.2 378.7 L541.4 378.5Z M549.3 376.8 L550.2 376.7 L551.2 376.5 L552.2 376.3 L553.1 376.1 L554.1 376 L555.1 375.8 L556.1 375.6 L557 375.4 L556.6 372.6 L555.6 372.7 L554.6 372.9 L553.6 373 L552.7 373.2 L551.7 373.3 L550.7 373.5 L549.7 373.6 L548.7 373.8Z M553.4 384.3 L554 384.1 L554.7 384 L555.4 383.8 L556.1 383.6 L556.8 383.4 L557.5 383.3 L558.2 383.1 L558.9 382.9 L558.3 380.1 L557.6 380.2 L556.9 380.4 L556.2 380.5 L555.5 380.7 L554.8 380.8 L554.1 381 L553.4 381.1 L552.6 381.3Z M492.1 372.9 L492.8 373.6 L493.7 374.5 L494.9 375.7 L496.1 376.9 L497.4 378.2 L498.7 379.5 L500 380.8 L501.1 381.9 L502.2 383 L503.3 384.2 L504.5 385.3 L505.7 386.5 L506.7 387.5 L507.7 388.5 L508.5 389.3 L509.1 389.9 L512.9 386.1 L512.3 385.5 L511.5 384.7 L510.5 383.7 L509.5 382.7 L508.3 381.5 L507.2 380.3 L506 379.2 L504.9 378.1 L503.8 377 L502.5 375.7 L501.2 374.4 L499.9 373.1 L498.7 371.9 L497.5 370.7 L496.6 369.8 L495.9 369.1Z M481.8 379.2 L482.2 380 L482.8 381.1 L483.5 382.5 L484.3 384.1 L485.2 385.7 L486.1 387.3 L487 388.9 L488 390.4 L488.9 391.6 L489.8 392.9 L490.7 394.1 L491.7 395.3 L492.8 396.5 L494 397.7 L495.2 398.8 L496.6 399.9 L498.1 400.9 L499.7 401.9 L501.4 402.8 L503.2 403.6 L505 404.4 L506.7 405.2 L508.5 405.9 L510.3 406.5 L512 407.1 L513.7 407.6 L515.4 408 L517.1 408.4 L518.8 408.8 L520.6 409.2 L522.3 409.5 L524.1 409.9 L526 410.3 L528.2 410.7 L530.4 411.1 L532.7 411.5 L534.8 411.9 L536.7 412.2 L538.3 412.5 L539.5 412.7 L540.1 409.3 L538.9 409.1 L537.3 408.7 L535.4 408.4 L533.3 407.9 L531.1 407.5 L528.9 407 L526.8 406.6 L524.9 406.1 L523.1 405.7 L521.4 405.3 L519.7 404.9 L518.1 404.5 L516.5 404.1 L514.9 403.6 L513.3 403.1 L511.7 402.5 L510.1 401.8 L508.5 401.1 L506.8 400.4 L505.1 399.6 L503.6 398.7 L502 397.9 L500.6 397 L499.4 396.1 L498.3 395.2 L497.2 394.3 L496.3 393.3 L495.4 392.2 L494.5 391.2 L493.7 390 L492.8 388.8 L492 387.6 L491.2 386.4 L490.3 384.9 L489.5 383.4 L488.7 381.8 L487.9 380.3 L487.3 378.9 L486.7 377.7 L486.2 376.8Z M512.2 405.7 L512.7 405.2 L513.2 404.7 L513.7 404.2 L514.2 403.7 L514.6 403.1 L515.1 402.6 L515.6 402.1 L516.1 401.6 L513.9 399.4 L513.4 399.9 L512.9 400.4 L512.4 400.9 L511.8 401.3 L511.3 401.8 L510.8 402.3 L510.3 402.8 L509.8 403.3Z M523.4 408.4 L523.7 407.9 L524 407.4 L524.3 406.8 L524.6 406.3 L524.9 405.8 L525.2 405.3 L525.5 404.8 L525.8 404.3 L523.2 402.7 L522.9 403.2 L522.6 403.7 L522.2 404.2 L521.9 404.7 L521.6 405.2 L521.3 405.6 L520.9 406.1 L520.6 406.6Z M522.5 408.9 L523.2 410.2 L524 411.4 L524.8 412.6 L525.6 413.9 L526.3 415.1 L527.1 416.3 L527.9 417.6 L528.7 418.8 L531.3 417.2 L530.6 415.9 L529.9 414.7 L529.2 413.4 L528.4 412.1 L527.7 410.9 L527 409.6 L526.3 408.3 L525.5 407.1Z M506.2 404.1 L506.5 405 L506.9 406.2 L507.4 407.6 L508 409.1 L508.6 410.7 L509.2 412.4 L509.8 414 L510.3 415.6 L510.8 417.2 L511.4 418.9 L512 420.7 L512.6 422.5 L513.2 424.2 L513.7 425.7 L514.1 427 L514.4 428 L517.6 427 L517.3 426 L516.9 424.7 L516.4 423.2 L515.9 421.5 L515.3 419.6 L514.8 417.8 L514.2 416 L513.7 414.4 L513.2 412.9 L512.6 411.2 L512.1 409.5 L511.5 407.8 L511 406.3 L510.5 404.9 L510.1 403.7 L509.8 402.9Z M493.7 396.2 L493.8 397.7 L493.9 399.2 L494 400.7 L494.2 402.2 L494.3 403.7 L494.4 405.2 L494.5 406.7 L494.7 408.2 L499.3 407.8 L499.2 406.3 L499.1 404.8 L499 403.3 L498.8 401.8 L498.7 400.3 L498.6 398.8 L498.5 397.3 L498.3 395.8Z M485.6 386.3 L485.3 388.3 L485.1 390.3 L484.9 392.3 L484.7 394.3 L484.5 396.4 L484.3 398.4 L484.1 400.4 L483.9 402.4 L487.1 402.8 L487.4 400.8 L487.7 398.8 L487.9 396.8 L488.2 394.8 L488.5 392.7 L488.7 390.7 L489 388.7 L489.2 386.7Z M488.7 392.1 L488.8 393.3 L488.9 394.5 L489 395.7 L489.1 396.9 L489.2 398.1 L489.3 399.4 L489.4 400.6 L489.5 401.8 L492.5 401.6 L492.5 400.4 L492.5 399.2 L492.5 398 L492.4 396.8 L492.4 395.5 L492.4 394.3 L492.3 393.1 L492.3 391.9Z" fill="#b85d55"/>
<circle cx="305" cy="228.7" r="9.8" fill="#bdebe7" fill-opacity=".6"/>
<circle cx="305" cy="228.7" r="6" fill="#a8e6e1" fill-opacity=".7"/>
<circle cx="305" cy="228.7" r="4.8" fill="#25b4ac"/>
<circle cx="274.6" cy="288.2" r="9.8" fill="#bdebe7" fill-opacity=".6"/>
<circle cx="274.6" cy="288.2" r="6" fill="#a8e6e1" fill-opacity=".7"/>
<circle cx="274.6" cy="288.2" r="4.8" fill="#25b4ac"/>
<circle cx="280.7" cy="301.5" r="9.8" fill="#bdebe7" fill-opacity=".6"/>
<circle cx="280.7" cy="301.5" r="6" fill="#a8e6e1" fill-opacity=".7"/>
<circle cx="280.7" cy="301.5" r="4.8" fill="#25b4ac"/>
<circle cx="457.2" cy="280.3" r="9.8" fill="#bdebe7" fill-opacity=".6"/>
<circle cx="457.2" cy="280.3" r="6" fill="#a8e6e1" fill-opacity=".7"/>
<circle cx="457.2" cy="280.3" r="4.8" fill="#25b4ac"/>
<circle cx="276" cy="179.5" r="10.4" fill="#c8080c" fill-opacity=".5"/>
<circle cx="268.8" cy="195" r="10.4" fill="#c8080c" fill-opacity=".5"/>
<circle cx="227" cy="324.5" r="10.4" fill="#c8080c" fill-opacity=".5"/>
<circle cx="216" cy="340" r="10.4" fill="#c8080c" fill-opacity=".5"/>
<circle cx="228.8" cy="350" r="10.4" fill="#c8080c" fill-opacity=".5"/>
<circle cx="193.8" cy="417.5" r="10.4" fill="#c8080c" fill-opacity=".5"/>
<circle cx="191" cy="433.8" r="10.4" fill="#c8080c" fill-opacity=".5"/>
<circle cx="207.5" cy="438.8" r="10.4" fill="#c8080c" fill-opacity=".5"/>
<circle cx="513.3" cy="223" r="10.4" fill="#c8080c" fill-opacity=".5"/>
<circle cx="514.5" cy="238.3" r="10.4" fill="#c8080c" fill-opacity=".5"/>
<circle cx="529.5" cy="242" r="10.4" fill="#c8080c" fill-opacity=".5"/>
<circle cx="576.8" cy="435" r="10.4" fill="#c8080c" fill-opacity=".5"/>
<circle cx="276" cy="179.5" r="5" fill="#ff0808"/>
<circle cx="268.8" cy="195" r="5" fill="#ff0808"/>
<circle cx="227" cy="324.5" r="5" fill="#ff0808"/>
<circle cx="216" cy="340" r="5" fill="#ff0808"/>
<circle cx="228.8" cy="350" r="5" fill="#ff0808"/>
<circle cx="193.8" cy="417.5" r="5" fill="#ff0808"/>
<circle cx="191" cy="433.8" r="5" fill="#ff0808"/>
<circle cx="207.5" cy="438.8" r="5" fill="#ff0808"/>
<circle cx="513.3" cy="223" r="5" fill="#ff0808"/>
<circle cx="514.5" cy="238.3" r="5" fill="#ff0808"/>
<circle cx="529.5" cy="242" r="5" fill="#ff0808"/>
<circle cx="576.8" cy="435" r="5" fill="#ff0808"/>
<path d="M595.5 376.5 L532.5 424" stroke="#222c84" stroke-width="4" fill="none"/>
<rect x="506.5" y="424" width="26" height="26" fill="none" stroke="#222c84" stroke-width="3.6"/>
<text x="308.7" y="212.3" font-size="15.5" text-anchor="middle" stroke="#111" stroke-width=".2">1</text>
<text x="295.3" y="218.2" font-size="15.5" text-anchor="middle" stroke="#111" stroke-width=".2">2</text>
<text x="288" y="229.8" font-size="15.5" text-anchor="middle" stroke="#111" stroke-width=".2">3</text>
<text x="262" y="293.2" font-size="15.5" text-anchor="middle" stroke="#111" stroke-width=".2">4</text>
<text x="268" y="315" font-size="15.5" text-anchor="middle" stroke="#111" stroke-width=".2">5</text>
<text x="316" y="307" font-size="15.5" text-anchor="middle" stroke="#111" stroke-width=".2">6</text>
<text x="276" y="373.4" font-size="15.5" text-anchor="middle" stroke="#111" stroke-width=".2">8</text>
<text x="309.3" y="372.8" font-size="15.5" text-anchor="middle" stroke="#111" stroke-width=".2">7</text>
<text x="299" y="384.6" font-size="15.5" text-anchor="middle" stroke="#111" stroke-width=".2">10</text>
<text x="280.7" y="391.3" font-size="15.5" text-anchor="middle" stroke="#111" stroke-width=".2">9</text>
<text x="488.3" y="228" font-size="15.5" text-anchor="middle" stroke="#111" stroke-width=".2">3</text>
<text x="454.2" y="304.3" font-size="15.5" text-anchor="middle" stroke="#111" stroke-width=".2">6</text>
<text x="332" y="56.8" font-size="25.5" textLength="106.5" lengthAdjust="spacingAndGlyphs">sampling</text>
<text x="310.3" y="94.6" font-size="16.5" textLength="33.2" lengthAdjust="spacingAndGlyphs">right</text>
<text x="432.8" y="94.2" font-size="16.5" textLength="21.8" lengthAdjust="spacingAndGlyphs">left</text>
<text x="103.3" y="183.6" font-size="24" textLength="115" lengthAdjust="spacingAndGlyphs">upper lobe</text>
<text x="48.2" y="312" font-size="24" textLength="126" lengthAdjust="spacingAndGlyphs">middle lobe</text>
<text x="31.3" y="433.6" font-size="24" textLength="111" lengthAdjust="spacingAndGlyphs">lower lobe</text>
<text x="244.6" y="536.3" font-size="24" textLength="46.7" lengthAdjust="spacingAndGlyphs">lung</text>
<text x="463.8" y="535.4" font-size="24" textLength="98" lengthAdjust="spacingAndGlyphs">bronchial</text>
<text x="463.8" y="565.9" font-size="24" textLength="96" lengthAdjust="spacingAndGlyphs">sampling</text>
<circle cx="227" cy="528.2" r="10.3" fill="#e87474"/><circle cx="227" cy="528.2" r="5" fill="#ff0808"/>
<circle cx="446.6" cy="528" r="10.4" fill="#d3dbd9"/><circle cx="446.6" cy="528" r="5.8" fill="#bfeae6"/><circle cx="446.6" cy="528" r="4.7" fill="#25b4ac"/>
</svg>
<div class="frame"></div>
</body></html>
